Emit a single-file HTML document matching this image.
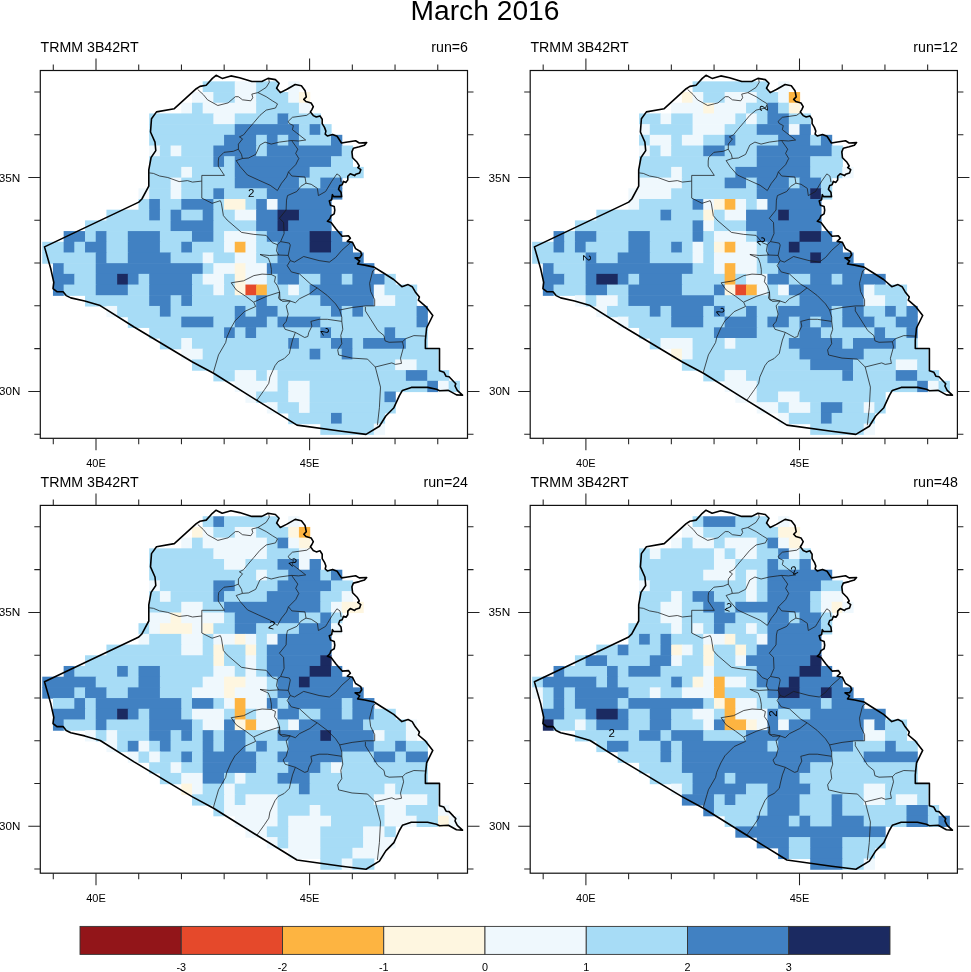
<!DOCTYPE html><html><head><meta charset="utf-8"><style>html,body{margin:0;padding:0;background:#fff;width:971px;height:972px;overflow:hidden}svg{display:block;will-change:transform}</style></head><body>
<svg width="971" height="972" viewBox="0 0 971 972">
<rect width="971" height="972" fill="#fff"/>
<text x="485" y="20.4" text-anchor="middle" font-size="28.2" font-family="Liberation Sans, sans-serif" fill="#000">March 2016</text>
<g transform="translate(0,0)">
<clipPath id="c0"><rect x="40.3" y="70.5" width="427.2" height="367.8"/></clipPath>
<g clip-path="url(#c0)" class="cl">
<rect x="202.68" y="81.35" width="32.69" height="11.29" fill="#A7DCF6"/>
<rect x="234.76" y="81.35" width="21.99" height="11.29" fill="#EFF8FD"/>
<rect x="256.15" y="81.35" width="21.99" height="11.29" fill="#A7DCF6"/>
<rect x="288.24" y="81.35" width="11.29" height="11.29" fill="#EFF8FD"/>
<rect x="191.98" y="92.04" width="21.99" height="11.29" fill="#EFF8FD"/>
<rect x="213.37" y="92.04" width="21.99" height="11.29" fill="#A7DCF6"/>
<rect x="234.76" y="92.04" width="21.99" height="11.29" fill="#EFF8FD"/>
<rect x="256.15" y="92.04" width="32.69" height="11.29" fill="#A7DCF6"/>
<rect x="288.24" y="92.04" width="11.29" height="11.29" fill="#EFF8FD"/>
<rect x="298.93" y="92.04" width="11.29" height="11.29" fill="#FEF6E0"/>
<rect x="181.28" y="102.73" width="11.29" height="11.29" fill="#EFF8FD"/>
<rect x="191.98" y="102.73" width="11.29" height="11.29" fill="#A7DCF6"/>
<rect x="202.68" y="102.73" width="54.08" height="11.29" fill="#EFF8FD"/>
<rect x="256.15" y="102.73" width="43.38" height="11.29" fill="#A7DCF6"/>
<rect x="298.93" y="102.73" width="11.29" height="11.29" fill="#EFF8FD"/>
<rect x="149.2" y="113.43" width="64.77" height="11.29" fill="#A7DCF6"/>
<rect x="213.37" y="113.43" width="21.99" height="11.29" fill="#EFF8FD"/>
<rect x="234.76" y="113.43" width="43.38" height="11.29" fill="#A7DCF6"/>
<rect x="277.54" y="113.43" width="11.29" height="11.29" fill="#4181C2"/>
<rect x="288.24" y="113.43" width="32.69" height="11.29" fill="#A7DCF6"/>
<rect x="149.2" y="124.13" width="86.16" height="11.29" fill="#A7DCF6"/>
<rect x="234.76" y="124.13" width="64.77" height="11.29" fill="#4181C2"/>
<rect x="298.93" y="124.13" width="11.29" height="11.29" fill="#A7DCF6"/>
<rect x="309.62" y="124.13" width="11.29" height="11.29" fill="#4181C2"/>
<rect x="320.32" y="124.13" width="11.29" height="11.29" fill="#A7DCF6"/>
<rect x="149.2" y="134.82" width="75.47" height="11.29" fill="#A7DCF6"/>
<rect x="224.06" y="134.82" width="32.69" height="11.29" fill="#4181C2"/>
<rect x="256.15" y="134.82" width="11.29" height="11.29" fill="#A7DCF6"/>
<rect x="266.84" y="134.82" width="11.29" height="11.29" fill="#4181C2"/>
<rect x="277.54" y="134.82" width="11.29" height="11.29" fill="#A7DCF6"/>
<rect x="288.24" y="134.82" width="11.29" height="11.29" fill="#4181C2"/>
<rect x="298.93" y="134.82" width="32.69" height="11.29" fill="#A7DCF6"/>
<rect x="331.01" y="134.82" width="11.29" height="11.29" fill="#4181C2"/>
<rect x="149.2" y="145.51" width="11.29" height="11.29" fill="#EFF8FD"/>
<rect x="159.89" y="145.51" width="11.29" height="11.29" fill="#A7DCF6"/>
<rect x="170.59" y="145.51" width="11.29" height="11.29" fill="#EFF8FD"/>
<rect x="181.28" y="145.51" width="32.69" height="11.29" fill="#A7DCF6"/>
<rect x="213.37" y="145.51" width="43.38" height="11.29" fill="#4181C2"/>
<rect x="256.15" y="145.51" width="11.29" height="11.29" fill="#A7DCF6"/>
<rect x="266.84" y="145.51" width="75.47" height="11.29" fill="#4181C2"/>
<rect x="341.71" y="145.51" width="11.29" height="11.29" fill="#A7DCF6"/>
<rect x="149.2" y="156.21" width="64.77" height="11.29" fill="#A7DCF6"/>
<rect x="213.37" y="156.21" width="11.29" height="11.29" fill="#4181C2"/>
<rect x="224.06" y="156.21" width="11.29" height="11.29" fill="#A7DCF6"/>
<rect x="234.76" y="156.21" width="96.85" height="11.29" fill="#4181C2"/>
<rect x="331.01" y="156.21" width="21.99" height="11.29" fill="#A7DCF6"/>
<rect x="149.2" y="166.9" width="32.69" height="11.29" fill="#A7DCF6"/>
<rect x="181.28" y="166.9" width="11.29" height="11.29" fill="#EFF8FD"/>
<rect x="191.98" y="166.9" width="43.38" height="11.29" fill="#A7DCF6"/>
<rect x="234.76" y="166.9" width="75.47" height="11.29" fill="#4181C2"/>
<rect x="309.62" y="166.9" width="54.08" height="11.29" fill="#A7DCF6"/>
<rect x="149.2" y="177.6" width="21.99" height="11.29" fill="#A7DCF6"/>
<rect x="170.59" y="177.6" width="11.29" height="11.29" fill="#EFF8FD"/>
<rect x="181.28" y="177.6" width="54.08" height="11.29" fill="#A7DCF6"/>
<rect x="234.76" y="177.6" width="64.77" height="11.29" fill="#4181C2"/>
<rect x="298.93" y="177.6" width="21.99" height="11.29" fill="#A7DCF6"/>
<rect x="320.32" y="177.6" width="21.99" height="11.29" fill="#4181C2"/>
<rect x="138.5" y="188.3" width="11.29" height="11.29" fill="#EFF8FD"/>
<rect x="149.2" y="188.3" width="21.99" height="11.29" fill="#A7DCF6"/>
<rect x="170.59" y="188.3" width="11.29" height="11.29" fill="#EFF8FD"/>
<rect x="181.28" y="188.3" width="32.69" height="11.29" fill="#A7DCF6"/>
<rect x="213.37" y="188.3" width="11.29" height="11.29" fill="#4181C2"/>
<rect x="224.06" y="188.3" width="43.38" height="11.29" fill="#A7DCF6"/>
<rect x="266.84" y="188.3" width="75.47" height="11.29" fill="#4181C2"/>
<rect x="138.5" y="198.99" width="11.29" height="11.29" fill="#A7DCF6"/>
<rect x="149.2" y="198.99" width="11.29" height="11.29" fill="#4181C2"/>
<rect x="159.89" y="198.99" width="21.99" height="11.29" fill="#A7DCF6"/>
<rect x="181.28" y="198.99" width="32.69" height="11.29" fill="#4181C2"/>
<rect x="213.37" y="198.99" width="11.29" height="11.29" fill="#A7DCF6"/>
<rect x="224.06" y="198.99" width="21.99" height="11.29" fill="#FEF6E0"/>
<rect x="245.45" y="198.99" width="11.29" height="11.29" fill="#A7DCF6"/>
<rect x="256.15" y="198.99" width="11.29" height="11.29" fill="#4181C2"/>
<rect x="266.84" y="198.99" width="11.29" height="11.29" fill="#EFF8FD"/>
<rect x="277.54" y="198.99" width="54.08" height="11.29" fill="#4181C2"/>
<rect x="106.42" y="209.69" width="43.38" height="11.29" fill="#A7DCF6"/>
<rect x="149.2" y="209.69" width="11.29" height="11.29" fill="#4181C2"/>
<rect x="159.89" y="209.69" width="11.29" height="11.29" fill="#A7DCF6"/>
<rect x="170.59" y="209.69" width="11.29" height="11.29" fill="#4181C2"/>
<rect x="181.28" y="209.69" width="21.99" height="11.29" fill="#A7DCF6"/>
<rect x="202.68" y="209.69" width="11.29" height="11.29" fill="#4181C2"/>
<rect x="213.37" y="209.69" width="21.99" height="11.29" fill="#A7DCF6"/>
<rect x="234.76" y="209.69" width="21.99" height="11.29" fill="#EFF8FD"/>
<rect x="256.15" y="209.69" width="21.99" height="11.29" fill="#4181C2"/>
<rect x="277.54" y="209.69" width="21.99" height="11.29" fill="#1B2A61"/>
<rect x="298.93" y="209.69" width="32.69" height="11.29" fill="#4181C2"/>
<rect x="85.03" y="220.38" width="86.16" height="11.29" fill="#A7DCF6"/>
<rect x="170.59" y="220.38" width="43.38" height="11.29" fill="#4181C2"/>
<rect x="213.37" y="220.38" width="43.38" height="11.29" fill="#A7DCF6"/>
<rect x="256.15" y="220.38" width="21.99" height="11.29" fill="#4181C2"/>
<rect x="277.54" y="220.38" width="11.29" height="11.29" fill="#1B2A61"/>
<rect x="288.24" y="220.38" width="43.38" height="11.29" fill="#4181C2"/>
<rect x="63.64" y="231.07" width="21.99" height="11.29" fill="#4181C2"/>
<rect x="85.03" y="231.07" width="11.29" height="11.29" fill="#A7DCF6"/>
<rect x="95.73" y="231.07" width="11.29" height="11.29" fill="#4181C2"/>
<rect x="106.42" y="231.07" width="21.99" height="11.29" fill="#A7DCF6"/>
<rect x="127.81" y="231.07" width="32.69" height="11.29" fill="#4181C2"/>
<rect x="159.89" y="231.07" width="32.69" height="11.29" fill="#A7DCF6"/>
<rect x="191.98" y="231.07" width="21.99" height="11.29" fill="#4181C2"/>
<rect x="213.37" y="231.07" width="11.29" height="11.29" fill="#A7DCF6"/>
<rect x="224.06" y="231.07" width="32.69" height="11.29" fill="#EFF8FD"/>
<rect x="256.15" y="231.07" width="11.29" height="11.29" fill="#A7DCF6"/>
<rect x="266.84" y="231.07" width="43.38" height="11.29" fill="#4181C2"/>
<rect x="309.62" y="231.07" width="21.99" height="11.29" fill="#1B2A61"/>
<rect x="331.01" y="231.07" width="11.29" height="11.29" fill="#4181C2"/>
<rect x="42.25" y="241.77" width="21.99" height="11.29" fill="#A7DCF6"/>
<rect x="63.64" y="241.77" width="11.29" height="11.29" fill="#4181C2"/>
<rect x="74.33" y="241.77" width="11.29" height="11.29" fill="#A7DCF6"/>
<rect x="85.03" y="241.77" width="21.99" height="11.29" fill="#4181C2"/>
<rect x="106.42" y="241.77" width="21.99" height="11.29" fill="#A7DCF6"/>
<rect x="127.81" y="241.77" width="32.69" height="11.29" fill="#4181C2"/>
<rect x="159.89" y="241.77" width="21.99" height="11.29" fill="#A7DCF6"/>
<rect x="181.28" y="241.77" width="11.29" height="11.29" fill="#4181C2"/>
<rect x="191.98" y="241.77" width="32.69" height="11.29" fill="#A7DCF6"/>
<rect x="224.06" y="241.77" width="11.29" height="11.29" fill="#EFF8FD"/>
<rect x="234.76" y="241.77" width="11.29" height="11.29" fill="#FDB441"/>
<rect x="245.45" y="241.77" width="11.29" height="11.29" fill="#EFF8FD"/>
<rect x="256.15" y="241.77" width="21.99" height="11.29" fill="#A7DCF6"/>
<rect x="277.54" y="241.77" width="32.69" height="11.29" fill="#4181C2"/>
<rect x="309.62" y="241.77" width="21.99" height="11.29" fill="#1B2A61"/>
<rect x="331.01" y="241.77" width="21.99" height="11.29" fill="#4181C2"/>
<rect x="42.25" y="252.46" width="54.08" height="11.29" fill="#A7DCF6"/>
<rect x="95.73" y="252.46" width="11.29" height="11.29" fill="#4181C2"/>
<rect x="106.42" y="252.46" width="21.99" height="11.29" fill="#A7DCF6"/>
<rect x="127.81" y="252.46" width="43.38" height="11.29" fill="#4181C2"/>
<rect x="170.59" y="252.46" width="32.69" height="11.29" fill="#A7DCF6"/>
<rect x="202.68" y="252.46" width="11.29" height="11.29" fill="#EFF8FD"/>
<rect x="213.37" y="252.46" width="21.99" height="11.29" fill="#A7DCF6"/>
<rect x="234.76" y="252.46" width="21.99" height="11.29" fill="#EFF8FD"/>
<rect x="256.15" y="252.46" width="21.99" height="11.29" fill="#A7DCF6"/>
<rect x="277.54" y="252.46" width="86.16" height="11.29" fill="#4181C2"/>
<rect x="52.95" y="263.16" width="11.29" height="11.29" fill="#4181C2"/>
<rect x="63.64" y="263.16" width="32.69" height="11.29" fill="#A7DCF6"/>
<rect x="95.73" y="263.16" width="107.55" height="11.29" fill="#4181C2"/>
<rect x="202.68" y="263.16" width="11.29" height="11.29" fill="#A7DCF6"/>
<rect x="213.37" y="263.16" width="21.99" height="11.29" fill="#EFF8FD"/>
<rect x="234.76" y="263.16" width="11.29" height="11.29" fill="#FEF6E0"/>
<rect x="245.45" y="263.16" width="21.99" height="11.29" fill="#EFF8FD"/>
<rect x="266.84" y="263.16" width="107.55" height="11.29" fill="#4181C2"/>
<rect x="52.95" y="273.86" width="21.99" height="11.29" fill="#4181C2"/>
<rect x="74.33" y="273.86" width="21.99" height="11.29" fill="#A7DCF6"/>
<rect x="95.73" y="273.86" width="21.99" height="11.29" fill="#4181C2"/>
<rect x="117.12" y="273.86" width="11.29" height="11.29" fill="#1B2A61"/>
<rect x="127.81" y="273.86" width="11.29" height="11.29" fill="#4181C2"/>
<rect x="138.5" y="273.86" width="11.29" height="11.29" fill="#A7DCF6"/>
<rect x="149.2" y="273.86" width="43.38" height="11.29" fill="#4181C2"/>
<rect x="191.98" y="273.86" width="11.29" height="11.29" fill="#A7DCF6"/>
<rect x="202.68" y="273.86" width="21.99" height="11.29" fill="#EFF8FD"/>
<rect x="224.06" y="273.86" width="11.29" height="11.29" fill="#A7DCF6"/>
<rect x="234.76" y="273.86" width="11.29" height="11.29" fill="#FEF6E0"/>
<rect x="245.45" y="273.86" width="21.99" height="11.29" fill="#EFF8FD"/>
<rect x="266.84" y="273.86" width="11.29" height="11.29" fill="#A7DCF6"/>
<rect x="277.54" y="273.86" width="21.99" height="11.29" fill="#4181C2"/>
<rect x="298.93" y="273.86" width="21.99" height="11.29" fill="#A7DCF6"/>
<rect x="320.32" y="273.86" width="21.99" height="11.29" fill="#4181C2"/>
<rect x="341.71" y="273.86" width="11.29" height="11.29" fill="#A7DCF6"/>
<rect x="352.41" y="273.86" width="32.69" height="11.29" fill="#4181C2"/>
<rect x="384.49" y="273.86" width="11.29" height="11.29" fill="#A7DCF6"/>
<rect x="52.95" y="284.55" width="11.29" height="11.29" fill="#4181C2"/>
<rect x="63.64" y="284.55" width="32.69" height="11.29" fill="#A7DCF6"/>
<rect x="95.73" y="284.55" width="32.69" height="11.29" fill="#4181C2"/>
<rect x="127.81" y="284.55" width="21.99" height="11.29" fill="#A7DCF6"/>
<rect x="149.2" y="284.55" width="43.38" height="11.29" fill="#4181C2"/>
<rect x="191.98" y="284.55" width="21.99" height="11.29" fill="#A7DCF6"/>
<rect x="213.37" y="284.55" width="11.29" height="11.29" fill="#EFF8FD"/>
<rect x="224.06" y="284.55" width="11.29" height="11.29" fill="#A7DCF6"/>
<rect x="234.76" y="284.55" width="11.29" height="11.29" fill="#FEF6E0"/>
<rect x="245.45" y="284.55" width="11.29" height="11.29" fill="#E5492B"/>
<rect x="256.15" y="284.55" width="11.29" height="11.29" fill="#FDB441"/>
<rect x="266.84" y="284.55" width="21.99" height="11.29" fill="#A7DCF6"/>
<rect x="288.24" y="284.55" width="11.29" height="11.29" fill="#EFF8FD"/>
<rect x="298.93" y="284.55" width="11.29" height="11.29" fill="#A7DCF6"/>
<rect x="309.62" y="284.55" width="64.77" height="11.29" fill="#4181C2"/>
<rect x="373.8" y="284.55" width="11.29" height="11.29" fill="#EFF8FD"/>
<rect x="384.49" y="284.55" width="32.69" height="11.29" fill="#A7DCF6"/>
<rect x="85.03" y="295.25" width="64.77" height="11.29" fill="#A7DCF6"/>
<rect x="149.2" y="295.25" width="21.99" height="11.29" fill="#4181C2"/>
<rect x="170.59" y="295.25" width="11.29" height="11.29" fill="#A7DCF6"/>
<rect x="181.28" y="295.25" width="11.29" height="11.29" fill="#4181C2"/>
<rect x="191.98" y="295.25" width="64.77" height="11.29" fill="#A7DCF6"/>
<rect x="256.15" y="295.25" width="11.29" height="11.29" fill="#4181C2"/>
<rect x="266.84" y="295.25" width="54.08" height="11.29" fill="#A7DCF6"/>
<rect x="320.32" y="295.25" width="54.08" height="11.29" fill="#4181C2"/>
<rect x="373.8" y="295.25" width="21.99" height="11.29" fill="#EFF8FD"/>
<rect x="395.19" y="295.25" width="21.99" height="11.29" fill="#A7DCF6"/>
<rect x="106.42" y="305.94" width="11.29" height="11.29" fill="#EFF8FD"/>
<rect x="117.12" y="305.94" width="43.38" height="11.29" fill="#A7DCF6"/>
<rect x="159.89" y="305.94" width="11.29" height="11.29" fill="#4181C2"/>
<rect x="170.59" y="305.94" width="64.77" height="11.29" fill="#A7DCF6"/>
<rect x="234.76" y="305.94" width="11.29" height="11.29" fill="#4181C2"/>
<rect x="245.45" y="305.94" width="11.29" height="11.29" fill="#A7DCF6"/>
<rect x="256.15" y="305.94" width="21.99" height="11.29" fill="#4181C2"/>
<rect x="277.54" y="305.94" width="54.08" height="11.29" fill="#A7DCF6"/>
<rect x="331.01" y="305.94" width="11.29" height="11.29" fill="#4181C2"/>
<rect x="341.71" y="305.94" width="11.29" height="11.29" fill="#A7DCF6"/>
<rect x="352.41" y="305.94" width="11.29" height="11.29" fill="#4181C2"/>
<rect x="363.1" y="305.94" width="54.08" height="11.29" fill="#A7DCF6"/>
<rect x="416.57" y="305.94" width="11.29" height="11.29" fill="#4181C2"/>
<rect x="127.81" y="316.63" width="54.08" height="11.29" fill="#A7DCF6"/>
<rect x="181.28" y="316.63" width="32.69" height="11.29" fill="#4181C2"/>
<rect x="213.37" y="316.63" width="21.99" height="11.29" fill="#A7DCF6"/>
<rect x="234.76" y="316.63" width="32.69" height="11.29" fill="#4181C2"/>
<rect x="266.84" y="316.63" width="11.29" height="11.29" fill="#A7DCF6"/>
<rect x="277.54" y="316.63" width="43.38" height="11.29" fill="#4181C2"/>
<rect x="320.32" y="316.63" width="96.85" height="11.29" fill="#A7DCF6"/>
<rect x="416.57" y="316.63" width="11.29" height="11.29" fill="#4181C2"/>
<rect x="149.2" y="327.33" width="75.47" height="11.29" fill="#A7DCF6"/>
<rect x="224.06" y="327.33" width="11.29" height="11.29" fill="#4181C2"/>
<rect x="234.76" y="327.33" width="11.29" height="11.29" fill="#A7DCF6"/>
<rect x="245.45" y="327.33" width="11.29" height="11.29" fill="#4181C2"/>
<rect x="256.15" y="327.33" width="64.77" height="11.29" fill="#A7DCF6"/>
<rect x="320.32" y="327.33" width="11.29" height="11.29" fill="#4181C2"/>
<rect x="331.01" y="327.33" width="54.08" height="11.29" fill="#A7DCF6"/>
<rect x="384.49" y="327.33" width="11.29" height="11.29" fill="#4181C2"/>
<rect x="395.19" y="327.33" width="32.69" height="11.29" fill="#A7DCF6"/>
<rect x="159.89" y="338.02" width="21.99" height="11.29" fill="#A7DCF6"/>
<rect x="181.28" y="338.02" width="11.29" height="11.29" fill="#EFF8FD"/>
<rect x="191.98" y="338.02" width="96.85" height="11.29" fill="#A7DCF6"/>
<rect x="288.24" y="338.02" width="11.29" height="11.29" fill="#4181C2"/>
<rect x="298.93" y="338.02" width="32.69" height="11.29" fill="#A7DCF6"/>
<rect x="331.01" y="338.02" width="21.99" height="11.29" fill="#4181C2"/>
<rect x="352.41" y="338.02" width="11.29" height="11.29" fill="#A7DCF6"/>
<rect x="363.1" y="338.02" width="43.38" height="11.29" fill="#4181C2"/>
<rect x="405.88" y="338.02" width="21.99" height="11.29" fill="#A7DCF6"/>
<rect x="181.28" y="348.72" width="21.99" height="11.29" fill="#EFF8FD"/>
<rect x="202.68" y="348.72" width="107.55" height="11.29" fill="#A7DCF6"/>
<rect x="309.62" y="348.72" width="11.29" height="11.29" fill="#4181C2"/>
<rect x="320.32" y="348.72" width="21.99" height="11.29" fill="#A7DCF6"/>
<rect x="341.71" y="348.72" width="11.29" height="11.29" fill="#4181C2"/>
<rect x="352.41" y="348.72" width="86.16" height="11.29" fill="#A7DCF6"/>
<rect x="191.98" y="359.41" width="203.81" height="11.29" fill="#A7DCF6"/>
<rect x="395.19" y="359.41" width="21.99" height="11.29" fill="#EFF8FD"/>
<rect x="416.57" y="359.41" width="21.99" height="11.29" fill="#A7DCF6"/>
<rect x="213.37" y="370.11" width="21.99" height="11.29" fill="#A7DCF6"/>
<rect x="234.76" y="370.11" width="21.99" height="11.29" fill="#EFF8FD"/>
<rect x="256.15" y="370.11" width="11.29" height="11.29" fill="#A7DCF6"/>
<rect x="266.84" y="370.11" width="11.29" height="11.29" fill="#EFF8FD"/>
<rect x="277.54" y="370.11" width="128.94" height="11.29" fill="#A7DCF6"/>
<rect x="405.88" y="370.11" width="21.99" height="11.29" fill="#4181C2"/>
<rect x="427.27" y="370.11" width="21.99" height="11.29" fill="#A7DCF6"/>
<rect x="234.76" y="380.81" width="43.38" height="11.29" fill="#EFF8FD"/>
<rect x="277.54" y="380.81" width="11.29" height="11.29" fill="#A7DCF6"/>
<rect x="288.24" y="380.81" width="21.99" height="11.29" fill="#EFF8FD"/>
<rect x="309.62" y="380.81" width="118.25" height="11.29" fill="#A7DCF6"/>
<rect x="427.27" y="380.81" width="11.29" height="11.29" fill="#4181C2"/>
<rect x="437.97" y="380.81" width="11.29" height="11.29" fill="#EFF8FD"/>
<rect x="448.66" y="380.81" width="11.29" height="11.29" fill="#A7DCF6"/>
<rect x="245.45" y="391.5" width="11.29" height="11.29" fill="#EFF8FD"/>
<rect x="256.15" y="391.5" width="32.69" height="11.29" fill="#A7DCF6"/>
<rect x="288.24" y="391.5" width="21.99" height="11.29" fill="#EFF8FD"/>
<rect x="309.62" y="391.5" width="75.47" height="11.29" fill="#A7DCF6"/>
<rect x="384.49" y="391.5" width="11.29" height="11.29" fill="#4181C2"/>
<rect x="266.84" y="402.19" width="11.29" height="11.29" fill="#EFF8FD"/>
<rect x="277.54" y="402.19" width="21.99" height="11.29" fill="#A7DCF6"/>
<rect x="298.93" y="402.19" width="11.29" height="11.29" fill="#EFF8FD"/>
<rect x="309.62" y="402.19" width="86.16" height="11.29" fill="#A7DCF6"/>
<rect x="288.24" y="412.89" width="43.38" height="11.29" fill="#A7DCF6"/>
<rect x="331.01" y="412.89" width="11.29" height="11.29" fill="#4181C2"/>
<rect x="341.71" y="412.89" width="43.38" height="11.29" fill="#A7DCF6"/>
<rect x="320.32" y="423.58" width="54.08" height="11.29" fill="#A7DCF6"/>
<rect x="373.8" y="423.58" width="11.29" height="11.29" fill="#EFF8FD"/>
<polyline fill="none" stroke="#1a1a1a" stroke-width="0.75" points="197.7,89.5 203.4,94.7 207.5,99.8 217.8,105.5 228.1,102.9 235.3,96.7 238.4,96.7 242.5,99.8 250.8,100.8 252.8,97.7 251.8,94.1 258,92.6 266.2,87.4 269.3,82.3 268.8,79.2"/>
<polyline fill="none" stroke="#1a1a1a" stroke-width="0.75" points="258,92.6 266.2,96.7 272.4,100.8 277.5,103.9 275.5,108 266.2,110.1 260,115.3 253.9,122.5 247.7,129.7 243.6,134.8 239.4,136.9 242.5,138.9 238.4,144.1 238.4,149.2 241.5,154.4 242.4,158.5"/>
<polyline fill="none" stroke="#1a1a1a" stroke-width="0.75" points="238.4,149.2 233.3,151.3 224,152.3 218.8,157.5 218.3,161 218.3,166.2 224.4,175.4 201.8,175.4 201.8,181.1"/>
<polyline fill="none" stroke="#1a1a1a" stroke-width="0.75" points="149.3,172.9 153.4,173.4 159.6,176 167.8,177.5 179.1,181.6 187.4,180.6 192.5,182.1 201.8,181.1"/>
<polyline fill="none" stroke="#1a1a1a" stroke-width="0.75" points="201.8,181.1 201.8,198.1 212.1,203.3 220.3,200.7 221.4,203.3 223.4,215.6 227.1,220 241.5,232.4 253.9,234.4 266.2,235.4 272.4,242.7 277.5,244.7"/>
<polyline fill="none" stroke="#1a1a1a" stroke-width="0.75" points="242.4,158.5 248.5,158 255.7,154.4 259.9,145.1 265,142.1 271.2,144.1 279.4,142.1 287.7,141 291.6,140.5 297.8,149.2 295.7,153.4 298.8,158.5 295.7,164.7 288.5,171.9 286.5,177 281.5,183.3 277.4,190.5 270.2,185.3 258.8,180.2 247.5,175 240.3,166.8 236.2,160.6 242.4,158.5"/>
<polyline fill="none" stroke="#1a1a1a" stroke-width="0.75" points="288.5,171.9 291.8,176 305,177 306,183.2 300.9,186.3 296.8,191.5 287.5,195.6 286.5,200.1 286.1,210 279.4,218.3 283.6,222.4 284.1,233.6 280.6,241.6 277.5,244.7"/>
<polyline fill="none" stroke="#1a1a1a" stroke-width="0.75" points="306,183.2 311.2,184.3 317.4,188.4 318.4,195.6 325.6,191.5 331.8,181.2 336.9,173.9 340,176 341.1,182.2"/>
<polyline fill="none" stroke="#1a1a1a" stroke-width="0.75" points="291.6,140.5 298.5,141 305.7,140 296.5,132.8 292.4,129.7 293.4,125.6 289.3,123.5 288.2,121.4 292.4,117.3 306.8,115.3 310.9,112.2"/>
<polyline fill="none" stroke="#1a1a1a" stroke-width="0.75" points="350,243.1 341.8,250.3 335.6,257.5 329.4,262.1 319.1,260.6 303.7,256.5 294.4,262.1 290.3,260.6 288.2,255.4 290.3,245.1 289.3,243.1 280.6,241.6"/>
<polyline fill="none" stroke="#1a1a1a" stroke-width="0.75" points="277.5,244.7 276.5,250.9 278.6,255 269.3,255.5 260,254.5 268.3,258.1 270.3,263.3 271.4,269.4 271.4,274.6 275.5,276.6 274.5,281.8 277.5,285.9 279.6,292.1 278.6,298.3 282.7,301.4 290.3,301"/>
<polyline fill="none" stroke="#1a1a1a" stroke-width="0.75" points="278.6,255 288.2,255.4"/>
<polyline fill="none" stroke="#1a1a1a" stroke-width="0.75" points="231.2,282.8 243.6,280.8 253.9,275.6 262.1,274.1 271.4,274.6"/>
<polyline fill="none" stroke="#1a1a1a" stroke-width="0.75" points="231.2,282.8 236.3,290 245.6,296.2 253.9,302.4 255.6,306.5"/>
<polyline fill="none" stroke="#1a1a1a" stroke-width="0.75" points="253.9,302 266.9,296.2 279.6,292.1"/>
<polyline fill="none" stroke="#1a1a1a" stroke-width="0.75" points="255.6,306.5 244.3,311.6 235,320.9 230.9,328.1 226.8,337.4 225.7,342.5 218.5,354.9 213.4,372.4"/>
<polyline fill="none" stroke="#1a1a1a" stroke-width="0.75" points="290.3,260.6 287.2,265.7 291.3,271.9 299.6,274 310.9,284.3 317.1,287.9 327.4,295.6 335.6,303.9 339.7,310 341.8,317.2 341.8,321.4"/>
<polyline fill="none" stroke="#1a1a1a" stroke-width="0.75" points="317.1,287.9 309.9,293.6 299.6,298.7 295.4,302.8 290.3,301 284.1,299.7 280,300 279.6,292.1"/>
<polyline fill="none" stroke="#1a1a1a" stroke-width="0.75" points="290.3,301 286.2,305.9 288.2,314.1 286.2,321.4 283.1,325.1 285.1,329.3 295.4,332.4 304.7,337.5 307.8,336.5 308.8,332.4 311.9,326.2 310.9,321.4"/>
<polyline fill="none" stroke="#1a1a1a" stroke-width="0.75" points="310.9,321.4 319.1,319.3 327.4,319.3 341.8,321.4 342.8,329.3 340.8,335.4 341.8,343.7 337.7,349.9 338.7,355 352.1,358.1 367.5,359.1 375.3,367 380.5,387.1 379.4,407.7 377.4,425.2"/>
<polyline fill="none" stroke="#1a1a1a" stroke-width="0.75" points="295.4,332.4 292.5,340 290.5,348.2 289.4,353.4 284.3,358.5 278.1,361.6 275,365.7 269.9,377.1 268.8,383.3 264.7,389.4 257,400.2"/>
<polyline fill="none" stroke="#1a1a1a" stroke-width="0.75" points="375.8,268.8 372.7,270.9 369.6,283.3 370.6,291.5 374.7,299.7 374.7,305.9 365.5,305.9 352.1,307.5 339.7,310"/>
<polyline fill="none" stroke="#1a1a1a" stroke-width="0.75" points="365.4,306.8 365.4,310.9 370.6,319.1 377.8,330.5 384,335.6 385,340.8 389.1,342.3 402.5,341.8 405.6,338.7 413.9,335.6 425.2,336.1"/>
<polyline fill="none" stroke="#1a1a1a" stroke-width="0.75" points="402.5,341.8 403.6,346.9 400.5,358.3 401.5,363.4 395.3,364.4 391.8,362.9 375.3,367"/>
<polygon fill="none" stroke="#000" stroke-width="1.6" stroke-linejoin="round" points="44.5,246.9 135.7,203.6 138.8,202.1 141.9,199 148.8,186.1 148.8,169.9 151.1,157.5 155.8,150.6 155,142.1 150.5,132 151.5,118.7 156.5,111.9 174.3,108.7 196.3,88.7 200,86.4 206.2,85.2 212.4,78.4 216.1,75.3 222.2,78.4 230.9,75.9 239.6,77.7 251.9,81.5 261.8,81.5 268,78.4 275.4,79.6 279.1,83.3 276.6,88.2 280.3,92.6 286.5,89.5 295.2,84.5 301.4,85.8 305.1,90.7 306.3,96.9 303.8,99.4 305.9,101.5 311.1,103 313.3,106.7 311.9,109.6 310.4,111.9 313.3,115.6 316.3,117 320,115.9 322.2,119.3 322.2,123.7 324.5,127.4 325.9,131.1 325.2,134.1 327.4,136 332.6,134.5 337.1,136.3 341.5,143 346,142.3 355.6,140.8 359.3,143 366.7,142.6 364.5,145.2 359.3,146.7 353.4,148.2 351.9,151.9 352.6,157.8 357.1,162.3 359.3,166 357.8,167.5 360.8,169.7 359.6,173.1 355.8,174.3 354.6,175.6 350.3,173.7 347.8,176.2 347.8,179.9 346,182.4 343.5,181.4 342.2,184.8 339.8,185.5 338.5,189.2 341,192.2 341.6,196.6 333.6,196.6 332.4,194.7 331.7,199.7 329.3,200.9 330.5,205.2 334.2,206.5 334.8,210.2 334.2,213.9 331.1,215.7 329.9,218.8 327.4,221.3 331.1,222.5 336,229 342.2,236.2 348.4,235.7 350.4,238.3 347.3,241.4 352.5,242.4 355.6,248.6 360.7,251.7 361.7,254.8 359.7,257.9 355.1,257.9 359.7,261 357.6,264 364.8,265.1 374.1,267.1 382.3,272.3 393.7,279.5 401.9,286.7 408.1,284.6 412.2,286.7 415.3,291.9 419.4,297 418.4,300.1 425.6,306.3 432.8,315.5 426.6,328 425.4,340 425.4,348.5 439.5,348.5 439.5,370.8 443.9,372.2 446.1,376.3 449.1,376.7 453.6,381.5 455.8,383.7 455,386 457.3,390.4 462.5,395.2 456.5,394.9 448.4,390.4 439.5,390.8 436.5,389.3 427.6,387.4 411.3,387.4 402.4,390.4 399.4,395.6 393.9,407.7 385.8,416 379.4,426.2 366,434.4 341.7,431.3 297,425.1 256.9,400.4 213.6,373.3 192.5,362 134.1,327 100.2,305.6 84.7,301 70.8,297.9 66.2,295.6 63.1,291.7 56.9,291.7 53,288.6 53.8,282.4 50.7,268.5"/>
</g>
<rect x="40.3" y="70.5" width="427.2" height="367.8" fill="none" stroke="#111" stroke-width="1.2"/>
<path stroke="#222" stroke-width="1.05" d="M53.28 438.3L53.28 444.3M53.28 70.5L53.28 64.5M96 438.3L96 450.3M96 70.5L96 58.5M138.72 438.3L138.72 444.3M138.72 70.5L138.72 64.5M181.44 438.3L181.44 444.3M181.44 70.5L181.44 64.5M224.16 438.3L224.16 444.3M224.16 70.5L224.16 64.5M266.88 438.3L266.88 444.3M266.88 70.5L266.88 64.5M309.6 438.3L309.6 450.3M309.6 70.5L309.6 58.5M352.32 438.3L352.32 444.3M352.32 70.5L352.32 64.5M395.04 438.3L395.04 444.3M395.04 70.5L395.04 64.5M437.76 438.3L437.76 444.3M437.76 70.5L437.76 64.5M40.3 434.18L34.3 434.18M467.5 434.18L473.5 434.18M40.3 391.4L28.3 391.4M467.5 391.4L479.5 391.4M40.3 348.62L34.3 348.62M467.5 348.62L473.5 348.62M40.3 305.84L34.3 305.84M467.5 305.84L473.5 305.84M40.3 263.06L34.3 263.06M467.5 263.06L473.5 263.06M40.3 220.28L34.3 220.28M467.5 220.28L473.5 220.28M40.3 177.5L28.3 177.5M467.5 177.5L479.5 177.5M40.3 134.72L34.3 134.72M467.5 134.72L473.5 134.72M40.3 91.94L34.3 91.94M467.5 91.94L473.5 91.94"/>
<text x="20.3" y="181.6" text-anchor="end" font-size="11.8" font-family="Liberation Sans, sans-serif">35N</text>
<text x="20.3" y="395.2" text-anchor="end" font-size="11.6" font-family="Liberation Sans, sans-serif">30N</text>
<text x="96.0" y="467.3" text-anchor="middle" font-size="11" font-family="Liberation Sans, sans-serif">40E</text>
<text x="309.6" y="467.3" text-anchor="middle" font-size="11" font-family="Liberation Sans, sans-serif">45E</text>
<text x="40.5" y="51.7" font-size="14.2" font-family="Liberation Sans, sans-serif">TRMM 3B42RT</text>
<text x="468" y="51.7" text-anchor="end" font-size="14.2" font-family="Liberation Sans, sans-serif">run=6</text>
</g>
<g transform="translate(489.9,0)">
<clipPath id="c1"><rect x="40.3" y="70.5" width="427.2" height="367.8"/></clipPath>
<g clip-path="url(#c1)" class="cl">
<rect x="202.68" y="81.35" width="75.47" height="11.29" fill="#A7DCF6"/>
<rect x="288.24" y="81.35" width="11.29" height="11.29" fill="#EFF8FD"/>
<rect x="191.98" y="92.04" width="11.29" height="11.29" fill="#FEF6E0"/>
<rect x="202.68" y="92.04" width="11.29" height="11.29" fill="#EFF8FD"/>
<rect x="213.37" y="92.04" width="21.99" height="11.29" fill="#A7DCF6"/>
<rect x="234.76" y="92.04" width="32.69" height="11.29" fill="#EFF8FD"/>
<rect x="266.84" y="92.04" width="21.99" height="11.29" fill="#A7DCF6"/>
<rect x="288.24" y="92.04" width="11.29" height="11.29" fill="#EFF8FD"/>
<rect x="298.93" y="92.04" width="11.29" height="11.29" fill="#FDB441"/>
<rect x="181.28" y="102.73" width="32.69" height="11.29" fill="#EFF8FD"/>
<rect x="213.37" y="102.73" width="11.29" height="11.29" fill="#FEF6E0"/>
<rect x="224.06" y="102.73" width="32.69" height="11.29" fill="#EFF8FD"/>
<rect x="256.15" y="102.73" width="21.99" height="11.29" fill="#A7DCF6"/>
<rect x="277.54" y="102.73" width="11.29" height="11.29" fill="#4181C2"/>
<rect x="288.24" y="102.73" width="11.29" height="11.29" fill="#A7DCF6"/>
<rect x="298.93" y="102.73" width="11.29" height="11.29" fill="#FEF6E0"/>
<rect x="149.2" y="113.43" width="21.99" height="11.29" fill="#A7DCF6"/>
<rect x="170.59" y="113.43" width="11.29" height="11.29" fill="#EFF8FD"/>
<rect x="181.28" y="113.43" width="21.99" height="11.29" fill="#A7DCF6"/>
<rect x="202.68" y="113.43" width="43.38" height="11.29" fill="#EFF8FD"/>
<rect x="245.45" y="113.43" width="11.29" height="11.29" fill="#A7DCF6"/>
<rect x="256.15" y="113.43" width="11.29" height="11.29" fill="#EFF8FD"/>
<rect x="266.84" y="113.43" width="11.29" height="11.29" fill="#A7DCF6"/>
<rect x="277.54" y="113.43" width="21.99" height="11.29" fill="#4181C2"/>
<rect x="298.93" y="113.43" width="21.99" height="11.29" fill="#A7DCF6"/>
<rect x="149.2" y="124.13" width="11.29" height="11.29" fill="#EFF8FD"/>
<rect x="159.89" y="124.13" width="43.38" height="11.29" fill="#A7DCF6"/>
<rect x="202.68" y="124.13" width="32.69" height="11.29" fill="#EFF8FD"/>
<rect x="234.76" y="124.13" width="32.69" height="11.29" fill="#A7DCF6"/>
<rect x="266.84" y="124.13" width="32.69" height="11.29" fill="#4181C2"/>
<rect x="298.93" y="124.13" width="11.29" height="11.29" fill="#EFF8FD"/>
<rect x="309.62" y="124.13" width="11.29" height="11.29" fill="#4181C2"/>
<rect x="149.2" y="134.82" width="11.29" height="11.29" fill="#A7DCF6"/>
<rect x="159.89" y="134.82" width="21.99" height="11.29" fill="#EFF8FD"/>
<rect x="181.28" y="134.82" width="11.29" height="11.29" fill="#A7DCF6"/>
<rect x="191.98" y="134.82" width="21.99" height="11.29" fill="#EFF8FD"/>
<rect x="213.37" y="134.82" width="21.99" height="11.29" fill="#A7DCF6"/>
<rect x="234.76" y="134.82" width="11.29" height="11.29" fill="#4181C2"/>
<rect x="245.45" y="134.82" width="43.38" height="11.29" fill="#A7DCF6"/>
<rect x="288.24" y="134.82" width="32.69" height="11.29" fill="#4181C2"/>
<rect x="320.32" y="134.82" width="11.29" height="11.29" fill="#A7DCF6"/>
<rect x="331.01" y="134.82" width="11.29" height="11.29" fill="#4181C2"/>
<rect x="149.2" y="145.51" width="11.29" height="11.29" fill="#EFF8FD"/>
<rect x="159.89" y="145.51" width="11.29" height="11.29" fill="#A7DCF6"/>
<rect x="170.59" y="145.51" width="11.29" height="11.29" fill="#EFF8FD"/>
<rect x="181.28" y="145.51" width="32.69" height="11.29" fill="#A7DCF6"/>
<rect x="213.37" y="145.51" width="21.99" height="11.29" fill="#4181C2"/>
<rect x="234.76" y="145.51" width="32.69" height="11.29" fill="#A7DCF6"/>
<rect x="266.84" y="145.51" width="75.47" height="11.29" fill="#4181C2"/>
<rect x="341.71" y="145.51" width="11.29" height="11.29" fill="#A7DCF6"/>
<rect x="149.2" y="156.21" width="118.25" height="11.29" fill="#A7DCF6"/>
<rect x="266.84" y="156.21" width="54.08" height="11.29" fill="#4181C2"/>
<rect x="320.32" y="156.21" width="32.69" height="11.29" fill="#A7DCF6"/>
<rect x="149.2" y="166.9" width="32.69" height="11.29" fill="#A7DCF6"/>
<rect x="181.28" y="166.9" width="11.29" height="11.29" fill="#EFF8FD"/>
<rect x="191.98" y="166.9" width="54.08" height="11.29" fill="#A7DCF6"/>
<rect x="245.45" y="166.9" width="75.47" height="11.29" fill="#4181C2"/>
<rect x="320.32" y="166.9" width="32.69" height="11.29" fill="#A7DCF6"/>
<rect x="352.41" y="166.9" width="11.29" height="11.29" fill="#EFF8FD"/>
<rect x="149.2" y="177.6" width="43.38" height="11.29" fill="#EFF8FD"/>
<rect x="191.98" y="177.6" width="43.38" height="11.29" fill="#A7DCF6"/>
<rect x="234.76" y="177.6" width="21.99" height="11.29" fill="#4181C2"/>
<rect x="256.15" y="177.6" width="11.29" height="11.29" fill="#A7DCF6"/>
<rect x="266.84" y="177.6" width="32.69" height="11.29" fill="#4181C2"/>
<rect x="298.93" y="177.6" width="11.29" height="11.29" fill="#A7DCF6"/>
<rect x="309.62" y="177.6" width="21.99" height="11.29" fill="#4181C2"/>
<rect x="331.01" y="177.6" width="11.29" height="11.29" fill="#A7DCF6"/>
<rect x="138.5" y="188.3" width="43.38" height="11.29" fill="#EFF8FD"/>
<rect x="181.28" y="188.3" width="86.16" height="11.29" fill="#A7DCF6"/>
<rect x="266.84" y="188.3" width="54.08" height="11.29" fill="#4181C2"/>
<rect x="320.32" y="188.3" width="11.29" height="11.29" fill="#1B2A61"/>
<rect x="331.01" y="188.3" width="11.29" height="11.29" fill="#A7DCF6"/>
<rect x="138.5" y="198.99" width="11.29" height="11.29" fill="#EFF8FD"/>
<rect x="149.2" y="198.99" width="54.08" height="11.29" fill="#A7DCF6"/>
<rect x="202.68" y="198.99" width="11.29" height="11.29" fill="#4181C2"/>
<rect x="213.37" y="198.99" width="11.29" height="11.29" fill="#EFF8FD"/>
<rect x="224.06" y="198.99" width="11.29" height="11.29" fill="#FEF6E0"/>
<rect x="234.76" y="198.99" width="11.29" height="11.29" fill="#FDB441"/>
<rect x="245.45" y="198.99" width="11.29" height="11.29" fill="#EFF8FD"/>
<rect x="256.15" y="198.99" width="11.29" height="11.29" fill="#A7DCF6"/>
<rect x="266.84" y="198.99" width="11.29" height="11.29" fill="#EFF8FD"/>
<rect x="277.54" y="198.99" width="54.08" height="11.29" fill="#4181C2"/>
<rect x="106.42" y="209.69" width="64.77" height="11.29" fill="#A7DCF6"/>
<rect x="170.59" y="209.69" width="11.29" height="11.29" fill="#4181C2"/>
<rect x="181.28" y="209.69" width="32.69" height="11.29" fill="#A7DCF6"/>
<rect x="213.37" y="209.69" width="11.29" height="11.29" fill="#FEF6E0"/>
<rect x="224.06" y="209.69" width="11.29" height="11.29" fill="#A7DCF6"/>
<rect x="234.76" y="209.69" width="21.99" height="11.29" fill="#EFF8FD"/>
<rect x="256.15" y="209.69" width="32.69" height="11.29" fill="#4181C2"/>
<rect x="288.24" y="209.69" width="11.29" height="11.29" fill="#1B2A61"/>
<rect x="298.93" y="209.69" width="32.69" height="11.29" fill="#4181C2"/>
<rect x="85.03" y="220.38" width="118.25" height="11.29" fill="#A7DCF6"/>
<rect x="202.68" y="220.38" width="11.29" height="11.29" fill="#4181C2"/>
<rect x="213.37" y="220.38" width="11.29" height="11.29" fill="#EFF8FD"/>
<rect x="224.06" y="220.38" width="32.69" height="11.29" fill="#A7DCF6"/>
<rect x="256.15" y="220.38" width="75.47" height="11.29" fill="#4181C2"/>
<rect x="63.64" y="231.07" width="11.29" height="11.29" fill="#4181C2"/>
<rect x="74.33" y="231.07" width="11.29" height="11.29" fill="#A7DCF6"/>
<rect x="85.03" y="231.07" width="21.99" height="11.29" fill="#4181C2"/>
<rect x="106.42" y="231.07" width="32.69" height="11.29" fill="#A7DCF6"/>
<rect x="138.5" y="231.07" width="21.99" height="11.29" fill="#4181C2"/>
<rect x="159.89" y="231.07" width="43.38" height="11.29" fill="#A7DCF6"/>
<rect x="202.68" y="231.07" width="11.29" height="11.29" fill="#4181C2"/>
<rect x="213.37" y="231.07" width="11.29" height="11.29" fill="#A7DCF6"/>
<rect x="224.06" y="231.07" width="32.69" height="11.29" fill="#EFF8FD"/>
<rect x="256.15" y="231.07" width="11.29" height="11.29" fill="#A7DCF6"/>
<rect x="266.84" y="231.07" width="43.38" height="11.29" fill="#4181C2"/>
<rect x="309.62" y="231.07" width="21.99" height="11.29" fill="#1B2A61"/>
<rect x="331.01" y="231.07" width="11.29" height="11.29" fill="#4181C2"/>
<rect x="42.25" y="241.77" width="21.99" height="11.29" fill="#A7DCF6"/>
<rect x="63.64" y="241.77" width="11.29" height="11.29" fill="#4181C2"/>
<rect x="74.33" y="241.77" width="11.29" height="11.29" fill="#A7DCF6"/>
<rect x="85.03" y="241.77" width="11.29" height="11.29" fill="#4181C2"/>
<rect x="95.73" y="241.77" width="43.38" height="11.29" fill="#A7DCF6"/>
<rect x="138.5" y="241.77" width="21.99" height="11.29" fill="#4181C2"/>
<rect x="159.89" y="241.77" width="21.99" height="11.29" fill="#A7DCF6"/>
<rect x="181.28" y="241.77" width="11.29" height="11.29" fill="#4181C2"/>
<rect x="191.98" y="241.77" width="11.29" height="11.29" fill="#A7DCF6"/>
<rect x="202.68" y="241.77" width="11.29" height="11.29" fill="#EFF8FD"/>
<rect x="213.37" y="241.77" width="11.29" height="11.29" fill="#A7DCF6"/>
<rect x="224.06" y="241.77" width="11.29" height="11.29" fill="#FEF6E0"/>
<rect x="234.76" y="241.77" width="11.29" height="11.29" fill="#FDB441"/>
<rect x="245.45" y="241.77" width="21.99" height="11.29" fill="#EFF8FD"/>
<rect x="266.84" y="241.77" width="11.29" height="11.29" fill="#A7DCF6"/>
<rect x="277.54" y="241.77" width="21.99" height="11.29" fill="#4181C2"/>
<rect x="298.93" y="241.77" width="11.29" height="11.29" fill="#1B2A61"/>
<rect x="309.62" y="241.77" width="43.38" height="11.29" fill="#4181C2"/>
<rect x="42.25" y="252.46" width="54.08" height="11.29" fill="#A7DCF6"/>
<rect x="95.73" y="252.46" width="11.29" height="11.29" fill="#4181C2"/>
<rect x="106.42" y="252.46" width="21.99" height="11.29" fill="#A7DCF6"/>
<rect x="127.81" y="252.46" width="32.69" height="11.29" fill="#4181C2"/>
<rect x="159.89" y="252.46" width="43.38" height="11.29" fill="#A7DCF6"/>
<rect x="202.68" y="252.46" width="11.29" height="11.29" fill="#EFF8FD"/>
<rect x="213.37" y="252.46" width="11.29" height="11.29" fill="#A7DCF6"/>
<rect x="224.06" y="252.46" width="43.38" height="11.29" fill="#EFF8FD"/>
<rect x="266.84" y="252.46" width="11.29" height="11.29" fill="#A7DCF6"/>
<rect x="277.54" y="252.46" width="43.38" height="11.29" fill="#4181C2"/>
<rect x="320.32" y="252.46" width="11.29" height="11.29" fill="#1B2A61"/>
<rect x="331.01" y="252.46" width="32.69" height="11.29" fill="#4181C2"/>
<rect x="52.95" y="263.16" width="11.29" height="11.29" fill="#4181C2"/>
<rect x="63.64" y="263.16" width="32.69" height="11.29" fill="#A7DCF6"/>
<rect x="95.73" y="263.16" width="107.55" height="11.29" fill="#4181C2"/>
<rect x="202.68" y="263.16" width="21.99" height="11.29" fill="#A7DCF6"/>
<rect x="224.06" y="263.16" width="11.29" height="11.29" fill="#EFF8FD"/>
<rect x="234.76" y="263.16" width="11.29" height="11.29" fill="#FDB441"/>
<rect x="245.45" y="263.16" width="21.99" height="11.29" fill="#EFF8FD"/>
<rect x="266.84" y="263.16" width="21.99" height="11.29" fill="#A7DCF6"/>
<rect x="288.24" y="263.16" width="86.16" height="11.29" fill="#4181C2"/>
<rect x="52.95" y="273.86" width="21.99" height="11.29" fill="#4181C2"/>
<rect x="74.33" y="273.86" width="21.99" height="11.29" fill="#A7DCF6"/>
<rect x="95.73" y="273.86" width="11.29" height="11.29" fill="#4181C2"/>
<rect x="106.42" y="273.86" width="21.99" height="11.29" fill="#1B2A61"/>
<rect x="127.81" y="273.86" width="11.29" height="11.29" fill="#4181C2"/>
<rect x="138.5" y="273.86" width="11.29" height="11.29" fill="#A7DCF6"/>
<rect x="149.2" y="273.86" width="43.38" height="11.29" fill="#4181C2"/>
<rect x="191.98" y="273.86" width="43.38" height="11.29" fill="#A7DCF6"/>
<rect x="234.76" y="273.86" width="11.29" height="11.29" fill="#FDB441"/>
<rect x="245.45" y="273.86" width="11.29" height="11.29" fill="#A7DCF6"/>
<rect x="256.15" y="273.86" width="21.99" height="11.29" fill="#EFF8FD"/>
<rect x="277.54" y="273.86" width="21.99" height="11.29" fill="#4181C2"/>
<rect x="298.93" y="273.86" width="21.99" height="11.29" fill="#A7DCF6"/>
<rect x="320.32" y="273.86" width="21.99" height="11.29" fill="#4181C2"/>
<rect x="341.71" y="273.86" width="11.29" height="11.29" fill="#A7DCF6"/>
<rect x="352.41" y="273.86" width="43.38" height="11.29" fill="#4181C2"/>
<rect x="52.95" y="284.55" width="11.29" height="11.29" fill="#4181C2"/>
<rect x="63.64" y="284.55" width="32.69" height="11.29" fill="#A7DCF6"/>
<rect x="95.73" y="284.55" width="21.99" height="11.29" fill="#4181C2"/>
<rect x="117.12" y="284.55" width="21.99" height="11.29" fill="#A7DCF6"/>
<rect x="138.5" y="284.55" width="54.08" height="11.29" fill="#4181C2"/>
<rect x="191.98" y="284.55" width="32.69" height="11.29" fill="#A7DCF6"/>
<rect x="224.06" y="284.55" width="11.29" height="11.29" fill="#4181C2"/>
<rect x="234.76" y="284.55" width="11.29" height="11.29" fill="#FEF6E0"/>
<rect x="245.45" y="284.55" width="11.29" height="11.29" fill="#E5492B"/>
<rect x="256.15" y="284.55" width="11.29" height="11.29" fill="#FDB441"/>
<rect x="266.84" y="284.55" width="11.29" height="11.29" fill="#EFF8FD"/>
<rect x="277.54" y="284.55" width="11.29" height="11.29" fill="#A7DCF6"/>
<rect x="288.24" y="284.55" width="11.29" height="11.29" fill="#EFF8FD"/>
<rect x="298.93" y="284.55" width="75.47" height="11.29" fill="#4181C2"/>
<rect x="373.8" y="284.55" width="11.29" height="11.29" fill="#EFF8FD"/>
<rect x="384.49" y="284.55" width="32.69" height="11.29" fill="#A7DCF6"/>
<rect x="85.03" y="295.25" width="11.29" height="11.29" fill="#EFF8FD"/>
<rect x="95.73" y="295.25" width="11.29" height="11.29" fill="#A7DCF6"/>
<rect x="106.42" y="295.25" width="21.99" height="11.29" fill="#EFF8FD"/>
<rect x="127.81" y="295.25" width="11.29" height="11.29" fill="#A7DCF6"/>
<rect x="138.5" y="295.25" width="86.16" height="11.29" fill="#4181C2"/>
<rect x="224.06" y="295.25" width="86.16" height="11.29" fill="#A7DCF6"/>
<rect x="309.62" y="295.25" width="64.77" height="11.29" fill="#4181C2"/>
<rect x="373.8" y="295.25" width="21.99" height="11.29" fill="#EFF8FD"/>
<rect x="395.19" y="295.25" width="21.99" height="11.29" fill="#A7DCF6"/>
<rect x="106.42" y="305.94" width="11.29" height="11.29" fill="#EFF8FD"/>
<rect x="117.12" y="305.94" width="43.38" height="11.29" fill="#A7DCF6"/>
<rect x="159.89" y="305.94" width="11.29" height="11.29" fill="#4181C2"/>
<rect x="170.59" y="305.94" width="11.29" height="11.29" fill="#A7DCF6"/>
<rect x="181.28" y="305.94" width="32.69" height="11.29" fill="#4181C2"/>
<rect x="213.37" y="305.94" width="11.29" height="11.29" fill="#A7DCF6"/>
<rect x="224.06" y="305.94" width="11.29" height="11.29" fill="#4181C2"/>
<rect x="234.76" y="305.94" width="21.99" height="11.29" fill="#A7DCF6"/>
<rect x="256.15" y="305.94" width="11.29" height="11.29" fill="#4181C2"/>
<rect x="266.84" y="305.94" width="21.99" height="11.29" fill="#A7DCF6"/>
<rect x="288.24" y="305.94" width="54.08" height="11.29" fill="#4181C2"/>
<rect x="341.71" y="305.94" width="11.29" height="11.29" fill="#A7DCF6"/>
<rect x="352.41" y="305.94" width="21.99" height="11.29" fill="#4181C2"/>
<rect x="373.8" y="305.94" width="21.99" height="11.29" fill="#A7DCF6"/>
<rect x="395.19" y="305.94" width="11.29" height="11.29" fill="#4181C2"/>
<rect x="405.88" y="305.94" width="11.29" height="11.29" fill="#A7DCF6"/>
<rect x="416.57" y="305.94" width="11.29" height="11.29" fill="#4181C2"/>
<rect x="127.81" y="316.63" width="11.29" height="11.29" fill="#EFF8FD"/>
<rect x="138.5" y="316.63" width="43.38" height="11.29" fill="#A7DCF6"/>
<rect x="181.28" y="316.63" width="32.69" height="11.29" fill="#4181C2"/>
<rect x="213.37" y="316.63" width="21.99" height="11.29" fill="#A7DCF6"/>
<rect x="234.76" y="316.63" width="32.69" height="11.29" fill="#4181C2"/>
<rect x="266.84" y="316.63" width="11.29" height="11.29" fill="#A7DCF6"/>
<rect x="277.54" y="316.63" width="21.99" height="11.29" fill="#4181C2"/>
<rect x="298.93" y="316.63" width="11.29" height="11.29" fill="#A7DCF6"/>
<rect x="309.62" y="316.63" width="11.29" height="11.29" fill="#4181C2"/>
<rect x="320.32" y="316.63" width="11.29" height="11.29" fill="#A7DCF6"/>
<rect x="331.01" y="316.63" width="11.29" height="11.29" fill="#4181C2"/>
<rect x="341.71" y="316.63" width="11.29" height="11.29" fill="#A7DCF6"/>
<rect x="352.41" y="316.63" width="32.69" height="11.29" fill="#4181C2"/>
<rect x="384.49" y="316.63" width="21.99" height="11.29" fill="#A7DCF6"/>
<rect x="405.88" y="316.63" width="21.99" height="11.29" fill="#4181C2"/>
<rect x="149.2" y="327.33" width="75.47" height="11.29" fill="#A7DCF6"/>
<rect x="224.06" y="327.33" width="43.38" height="11.29" fill="#4181C2"/>
<rect x="266.84" y="327.33" width="43.38" height="11.29" fill="#A7DCF6"/>
<rect x="309.62" y="327.33" width="21.99" height="11.29" fill="#4181C2"/>
<rect x="331.01" y="327.33" width="54.08" height="11.29" fill="#A7DCF6"/>
<rect x="384.49" y="327.33" width="11.29" height="11.29" fill="#4181C2"/>
<rect x="395.19" y="327.33" width="21.99" height="11.29" fill="#A7DCF6"/>
<rect x="416.57" y="327.33" width="11.29" height="11.29" fill="#4181C2"/>
<rect x="159.89" y="338.02" width="11.29" height="11.29" fill="#A7DCF6"/>
<rect x="170.59" y="338.02" width="32.69" height="11.29" fill="#EFF8FD"/>
<rect x="202.68" y="338.02" width="32.69" height="11.29" fill="#A7DCF6"/>
<rect x="234.76" y="338.02" width="11.29" height="11.29" fill="#EFF8FD"/>
<rect x="245.45" y="338.02" width="54.08" height="11.29" fill="#A7DCF6"/>
<rect x="298.93" y="338.02" width="54.08" height="11.29" fill="#4181C2"/>
<rect x="352.41" y="338.02" width="11.29" height="11.29" fill="#A7DCF6"/>
<rect x="363.1" y="338.02" width="43.38" height="11.29" fill="#4181C2"/>
<rect x="405.88" y="338.02" width="21.99" height="11.29" fill="#A7DCF6"/>
<rect x="181.28" y="348.72" width="11.29" height="11.29" fill="#FEF6E0"/>
<rect x="191.98" y="348.72" width="11.29" height="11.29" fill="#EFF8FD"/>
<rect x="202.68" y="348.72" width="107.55" height="11.29" fill="#A7DCF6"/>
<rect x="309.62" y="348.72" width="64.77" height="11.29" fill="#4181C2"/>
<rect x="373.8" y="348.72" width="64.77" height="11.29" fill="#A7DCF6"/>
<rect x="191.98" y="359.41" width="128.94" height="11.29" fill="#A7DCF6"/>
<rect x="320.32" y="359.41" width="43.38" height="11.29" fill="#4181C2"/>
<rect x="363.1" y="359.41" width="43.38" height="11.29" fill="#A7DCF6"/>
<rect x="405.88" y="359.41" width="21.99" height="11.29" fill="#EFF8FD"/>
<rect x="427.27" y="359.41" width="11.29" height="11.29" fill="#A7DCF6"/>
<rect x="213.37" y="370.11" width="21.99" height="11.29" fill="#A7DCF6"/>
<rect x="234.76" y="370.11" width="21.99" height="11.29" fill="#EFF8FD"/>
<rect x="256.15" y="370.11" width="96.85" height="11.29" fill="#A7DCF6"/>
<rect x="352.41" y="370.11" width="11.29" height="11.29" fill="#4181C2"/>
<rect x="363.1" y="370.11" width="43.38" height="11.29" fill="#A7DCF6"/>
<rect x="405.88" y="370.11" width="21.99" height="11.29" fill="#4181C2"/>
<rect x="427.27" y="370.11" width="21.99" height="11.29" fill="#A7DCF6"/>
<rect x="234.76" y="380.81" width="32.69" height="11.29" fill="#EFF8FD"/>
<rect x="266.84" y="380.81" width="161.03" height="11.29" fill="#A7DCF6"/>
<rect x="427.27" y="380.81" width="11.29" height="11.29" fill="#4181C2"/>
<rect x="437.97" y="380.81" width="11.29" height="11.29" fill="#EFF8FD"/>
<rect x="448.66" y="380.81" width="11.29" height="11.29" fill="#A7DCF6"/>
<rect x="245.45" y="391.5" width="21.99" height="11.29" fill="#EFF8FD"/>
<rect x="266.84" y="391.5" width="21.99" height="11.29" fill="#A7DCF6"/>
<rect x="288.24" y="391.5" width="21.99" height="11.29" fill="#EFF8FD"/>
<rect x="309.62" y="391.5" width="86.16" height="11.29" fill="#A7DCF6"/>
<rect x="266.84" y="402.19" width="21.99" height="11.29" fill="#EFF8FD"/>
<rect x="288.24" y="402.19" width="11.29" height="11.29" fill="#A7DCF6"/>
<rect x="298.93" y="402.19" width="21.99" height="11.29" fill="#EFF8FD"/>
<rect x="320.32" y="402.19" width="11.29" height="11.29" fill="#A7DCF6"/>
<rect x="331.01" y="402.19" width="21.99" height="11.29" fill="#4181C2"/>
<rect x="352.41" y="402.19" width="21.99" height="11.29" fill="#A7DCF6"/>
<rect x="373.8" y="402.19" width="11.29" height="11.29" fill="#EFF8FD"/>
<rect x="384.49" y="402.19" width="11.29" height="11.29" fill="#A7DCF6"/>
<rect x="288.24" y="412.89" width="11.29" height="11.29" fill="#EFF8FD"/>
<rect x="298.93" y="412.89" width="32.69" height="11.29" fill="#A7DCF6"/>
<rect x="331.01" y="412.89" width="11.29" height="11.29" fill="#4181C2"/>
<rect x="341.71" y="412.89" width="43.38" height="11.29" fill="#A7DCF6"/>
<rect x="320.32" y="423.58" width="54.08" height="11.29" fill="#A7DCF6"/>
<rect x="373.8" y="423.58" width="11.29" height="11.29" fill="#EFF8FD"/>
<polyline fill="none" stroke="#1a1a1a" stroke-width="0.75" points="197.7,89.5 203.4,94.7 207.5,99.8 217.8,105.5 228.1,102.9 235.3,96.7 238.4,96.7 242.5,99.8 250.8,100.8 252.8,97.7 251.8,94.1 258,92.6 266.2,87.4 269.3,82.3 268.8,79.2"/>
<polyline fill="none" stroke="#1a1a1a" stroke-width="0.75" points="258,92.6 266.2,96.7 272.4,100.8 277.5,103.9 275.5,108 266.2,110.1 260,115.3 253.9,122.5 247.7,129.7 243.6,134.8 239.4,136.9 242.5,138.9 238.4,144.1 238.4,149.2 241.5,154.4 242.4,158.5"/>
<polyline fill="none" stroke="#1a1a1a" stroke-width="0.75" points="238.4,149.2 233.3,151.3 224,152.3 218.8,157.5 218.3,161 218.3,166.2 224.4,175.4 201.8,175.4 201.8,181.1"/>
<polyline fill="none" stroke="#1a1a1a" stroke-width="0.75" points="149.3,172.9 153.4,173.4 159.6,176 167.8,177.5 179.1,181.6 187.4,180.6 192.5,182.1 201.8,181.1"/>
<polyline fill="none" stroke="#1a1a1a" stroke-width="0.75" points="201.8,181.1 201.8,198.1 212.1,203.3 220.3,200.7 221.4,203.3 223.4,215.6 227.1,220 241.5,232.4 253.9,234.4 266.2,235.4 272.4,242.7 277.5,244.7"/>
<polyline fill="none" stroke="#1a1a1a" stroke-width="0.75" points="242.4,158.5 248.5,158 255.7,154.4 259.9,145.1 265,142.1 271.2,144.1 279.4,142.1 287.7,141 291.6,140.5 297.8,149.2 295.7,153.4 298.8,158.5 295.7,164.7 288.5,171.9 286.5,177 281.5,183.3 277.4,190.5 270.2,185.3 258.8,180.2 247.5,175 240.3,166.8 236.2,160.6 242.4,158.5"/>
<polyline fill="none" stroke="#1a1a1a" stroke-width="0.75" points="288.5,171.9 291.8,176 305,177 306,183.2 300.9,186.3 296.8,191.5 287.5,195.6 286.5,200.1 286.1,210 279.4,218.3 283.6,222.4 284.1,233.6 280.6,241.6 277.5,244.7"/>
<polyline fill="none" stroke="#1a1a1a" stroke-width="0.75" points="306,183.2 311.2,184.3 317.4,188.4 318.4,195.6 325.6,191.5 331.8,181.2 336.9,173.9 340,176 341.1,182.2"/>
<polyline fill="none" stroke="#1a1a1a" stroke-width="0.75" points="291.6,140.5 298.5,141 305.7,140 296.5,132.8 292.4,129.7 293.4,125.6 289.3,123.5 288.2,121.4 292.4,117.3 306.8,115.3 310.9,112.2"/>
<polyline fill="none" stroke="#1a1a1a" stroke-width="0.75" points="350,243.1 341.8,250.3 335.6,257.5 329.4,262.1 319.1,260.6 303.7,256.5 294.4,262.1 290.3,260.6 288.2,255.4 290.3,245.1 289.3,243.1 280.6,241.6"/>
<polyline fill="none" stroke="#1a1a1a" stroke-width="0.75" points="277.5,244.7 276.5,250.9 278.6,255 269.3,255.5 260,254.5 268.3,258.1 270.3,263.3 271.4,269.4 271.4,274.6 275.5,276.6 274.5,281.8 277.5,285.9 279.6,292.1 278.6,298.3 282.7,301.4 290.3,301"/>
<polyline fill="none" stroke="#1a1a1a" stroke-width="0.75" points="278.6,255 288.2,255.4"/>
<polyline fill="none" stroke="#1a1a1a" stroke-width="0.75" points="231.2,282.8 243.6,280.8 253.9,275.6 262.1,274.1 271.4,274.6"/>
<polyline fill="none" stroke="#1a1a1a" stroke-width="0.75" points="231.2,282.8 236.3,290 245.6,296.2 253.9,302.4 255.6,306.5"/>
<polyline fill="none" stroke="#1a1a1a" stroke-width="0.75" points="253.9,302 266.9,296.2 279.6,292.1"/>
<polyline fill="none" stroke="#1a1a1a" stroke-width="0.75" points="255.6,306.5 244.3,311.6 235,320.9 230.9,328.1 226.8,337.4 225.7,342.5 218.5,354.9 213.4,372.4"/>
<polyline fill="none" stroke="#1a1a1a" stroke-width="0.75" points="290.3,260.6 287.2,265.7 291.3,271.9 299.6,274 310.9,284.3 317.1,287.9 327.4,295.6 335.6,303.9 339.7,310 341.8,317.2 341.8,321.4"/>
<polyline fill="none" stroke="#1a1a1a" stroke-width="0.75" points="317.1,287.9 309.9,293.6 299.6,298.7 295.4,302.8 290.3,301 284.1,299.7 280,300 279.6,292.1"/>
<polyline fill="none" stroke="#1a1a1a" stroke-width="0.75" points="290.3,301 286.2,305.9 288.2,314.1 286.2,321.4 283.1,325.1 285.1,329.3 295.4,332.4 304.7,337.5 307.8,336.5 308.8,332.4 311.9,326.2 310.9,321.4"/>
<polyline fill="none" stroke="#1a1a1a" stroke-width="0.75" points="310.9,321.4 319.1,319.3 327.4,319.3 341.8,321.4 342.8,329.3 340.8,335.4 341.8,343.7 337.7,349.9 338.7,355 352.1,358.1 367.5,359.1 375.3,367 380.5,387.1 379.4,407.7 377.4,425.2"/>
<polyline fill="none" stroke="#1a1a1a" stroke-width="0.75" points="295.4,332.4 292.5,340 290.5,348.2 289.4,353.4 284.3,358.5 278.1,361.6 275,365.7 269.9,377.1 268.8,383.3 264.7,389.4 257,400.2"/>
<polyline fill="none" stroke="#1a1a1a" stroke-width="0.75" points="375.8,268.8 372.7,270.9 369.6,283.3 370.6,291.5 374.7,299.7 374.7,305.9 365.5,305.9 352.1,307.5 339.7,310"/>
<polyline fill="none" stroke="#1a1a1a" stroke-width="0.75" points="365.4,306.8 365.4,310.9 370.6,319.1 377.8,330.5 384,335.6 385,340.8 389.1,342.3 402.5,341.8 405.6,338.7 413.9,335.6 425.2,336.1"/>
<polyline fill="none" stroke="#1a1a1a" stroke-width="0.75" points="402.5,341.8 403.6,346.9 400.5,358.3 401.5,363.4 395.3,364.4 391.8,362.9 375.3,367"/>
<polygon fill="none" stroke="#000" stroke-width="1.6" stroke-linejoin="round" points="44.5,246.9 135.7,203.6 138.8,202.1 141.9,199 148.8,186.1 148.8,169.9 151.1,157.5 155.8,150.6 155,142.1 150.5,132 151.5,118.7 156.5,111.9 174.3,108.7 196.3,88.7 200,86.4 206.2,85.2 212.4,78.4 216.1,75.3 222.2,78.4 230.9,75.9 239.6,77.7 251.9,81.5 261.8,81.5 268,78.4 275.4,79.6 279.1,83.3 276.6,88.2 280.3,92.6 286.5,89.5 295.2,84.5 301.4,85.8 305.1,90.7 306.3,96.9 303.8,99.4 305.9,101.5 311.1,103 313.3,106.7 311.9,109.6 310.4,111.9 313.3,115.6 316.3,117 320,115.9 322.2,119.3 322.2,123.7 324.5,127.4 325.9,131.1 325.2,134.1 327.4,136 332.6,134.5 337.1,136.3 341.5,143 346,142.3 355.6,140.8 359.3,143 366.7,142.6 364.5,145.2 359.3,146.7 353.4,148.2 351.9,151.9 352.6,157.8 357.1,162.3 359.3,166 357.8,167.5 360.8,169.7 359.6,173.1 355.8,174.3 354.6,175.6 350.3,173.7 347.8,176.2 347.8,179.9 346,182.4 343.5,181.4 342.2,184.8 339.8,185.5 338.5,189.2 341,192.2 341.6,196.6 333.6,196.6 332.4,194.7 331.7,199.7 329.3,200.9 330.5,205.2 334.2,206.5 334.8,210.2 334.2,213.9 331.1,215.7 329.9,218.8 327.4,221.3 331.1,222.5 336,229 342.2,236.2 348.4,235.7 350.4,238.3 347.3,241.4 352.5,242.4 355.6,248.6 360.7,251.7 361.7,254.8 359.7,257.9 355.1,257.9 359.7,261 357.6,264 364.8,265.1 374.1,267.1 382.3,272.3 393.7,279.5 401.9,286.7 408.1,284.6 412.2,286.7 415.3,291.9 419.4,297 418.4,300.1 425.6,306.3 432.8,315.5 426.6,328 425.4,340 425.4,348.5 439.5,348.5 439.5,370.8 443.9,372.2 446.1,376.3 449.1,376.7 453.6,381.5 455.8,383.7 455,386 457.3,390.4 462.5,395.2 456.5,394.9 448.4,390.4 439.5,390.8 436.5,389.3 427.6,387.4 411.3,387.4 402.4,390.4 399.4,395.6 393.9,407.7 385.8,416 379.4,426.2 366,434.4 341.7,431.3 297,425.1 256.9,400.4 213.6,373.3 192.5,362 134.1,327 100.2,305.6 84.7,301 70.8,297.9 66.2,295.6 63.1,291.7 56.9,291.7 53,288.6 53.8,282.4 50.7,268.5"/>
</g>
<rect x="40.3" y="70.5" width="427.2" height="367.8" fill="none" stroke="#111" stroke-width="1.2"/>
<path stroke="#222" stroke-width="1.05" d="M53.28 438.3L53.28 444.3M53.28 70.5L53.28 64.5M96 438.3L96 450.3M96 70.5L96 58.5M138.72 438.3L138.72 444.3M138.72 70.5L138.72 64.5M181.44 438.3L181.44 444.3M181.44 70.5L181.44 64.5M224.16 438.3L224.16 444.3M224.16 70.5L224.16 64.5M266.88 438.3L266.88 444.3M266.88 70.5L266.88 64.5M309.6 438.3L309.6 450.3M309.6 70.5L309.6 58.5M352.32 438.3L352.32 444.3M352.32 70.5L352.32 64.5M395.04 438.3L395.04 444.3M395.04 70.5L395.04 64.5M437.76 438.3L437.76 444.3M437.76 70.5L437.76 64.5M40.3 434.18L34.3 434.18M467.5 434.18L473.5 434.18M40.3 391.4L28.3 391.4M467.5 391.4L479.5 391.4M40.3 348.62L34.3 348.62M467.5 348.62L473.5 348.62M40.3 305.84L34.3 305.84M467.5 305.84L473.5 305.84M40.3 263.06L34.3 263.06M467.5 263.06L473.5 263.06M40.3 220.28L34.3 220.28M467.5 220.28L473.5 220.28M40.3 177.5L28.3 177.5M467.5 177.5L479.5 177.5M40.3 134.72L34.3 134.72M467.5 134.72L473.5 134.72M40.3 91.94L34.3 91.94M467.5 91.94L473.5 91.94"/>
<text x="20.3" y="181.6" text-anchor="end" font-size="11.8" font-family="Liberation Sans, sans-serif">35N</text>
<text x="20.3" y="395.2" text-anchor="end" font-size="11.6" font-family="Liberation Sans, sans-serif">30N</text>
<text x="96.0" y="467.3" text-anchor="middle" font-size="11" font-family="Liberation Sans, sans-serif">40E</text>
<text x="309.6" y="467.3" text-anchor="middle" font-size="11" font-family="Liberation Sans, sans-serif">45E</text>
<text x="40.5" y="51.7" font-size="14.2" font-family="Liberation Sans, sans-serif">TRMM 3B42RT</text>
<text x="468" y="51.7" text-anchor="end" font-size="14.2" font-family="Liberation Sans, sans-serif">run=12</text>
</g>
<g transform="translate(0,434.9)">
<clipPath id="c2"><rect x="40.3" y="70.5" width="427.2" height="367.8"/></clipPath>
<g clip-path="url(#c2)" class="cl">
<rect x="202.68" y="81.35" width="11.29" height="11.29" fill="#A7DCF6"/>
<rect x="213.37" y="81.35" width="11.29" height="11.29" fill="#4181C2"/>
<rect x="224.06" y="81.35" width="54.08" height="11.29" fill="#A7DCF6"/>
<rect x="288.24" y="81.35" width="11.29" height="11.29" fill="#EFF8FD"/>
<rect x="191.98" y="92.04" width="11.29" height="11.29" fill="#FEF6E0"/>
<rect x="202.68" y="92.04" width="11.29" height="11.29" fill="#EFF8FD"/>
<rect x="213.37" y="92.04" width="21.99" height="11.29" fill="#A7DCF6"/>
<rect x="234.76" y="92.04" width="21.99" height="11.29" fill="#EFF8FD"/>
<rect x="256.15" y="92.04" width="32.69" height="11.29" fill="#A7DCF6"/>
<rect x="288.24" y="92.04" width="11.29" height="11.29" fill="#FEF6E0"/>
<rect x="298.93" y="92.04" width="11.29" height="11.29" fill="#FDB441"/>
<rect x="181.28" y="102.73" width="11.29" height="11.29" fill="#EFF8FD"/>
<rect x="191.98" y="102.73" width="11.29" height="11.29" fill="#A7DCF6"/>
<rect x="202.68" y="102.73" width="64.77" height="11.29" fill="#EFF8FD"/>
<rect x="266.84" y="102.73" width="11.29" height="11.29" fill="#A7DCF6"/>
<rect x="277.54" y="102.73" width="11.29" height="11.29" fill="#4181C2"/>
<rect x="288.24" y="102.73" width="11.29" height="11.29" fill="#EFF8FD"/>
<rect x="298.93" y="102.73" width="11.29" height="11.29" fill="#FEF6E0"/>
<rect x="149.2" y="113.43" width="64.77" height="11.29" fill="#A7DCF6"/>
<rect x="213.37" y="113.43" width="54.08" height="11.29" fill="#EFF8FD"/>
<rect x="266.84" y="113.43" width="32.69" height="11.29" fill="#A7DCF6"/>
<rect x="298.93" y="113.43" width="11.29" height="11.29" fill="#EFF8FD"/>
<rect x="149.2" y="124.13" width="75.47" height="11.29" fill="#A7DCF6"/>
<rect x="224.06" y="124.13" width="21.99" height="11.29" fill="#EFF8FD"/>
<rect x="245.45" y="124.13" width="32.69" height="11.29" fill="#A7DCF6"/>
<rect x="277.54" y="124.13" width="21.99" height="11.29" fill="#4181C2"/>
<rect x="298.93" y="124.13" width="11.29" height="11.29" fill="#EFF8FD"/>
<rect x="309.62" y="124.13" width="11.29" height="11.29" fill="#4181C2"/>
<rect x="149.2" y="134.82" width="107.55" height="11.29" fill="#A7DCF6"/>
<rect x="256.15" y="134.82" width="11.29" height="11.29" fill="#EFF8FD"/>
<rect x="266.84" y="134.82" width="21.99" height="11.29" fill="#A7DCF6"/>
<rect x="288.24" y="134.82" width="32.69" height="11.29" fill="#4181C2"/>
<rect x="320.32" y="134.82" width="11.29" height="11.29" fill="#A7DCF6"/>
<rect x="331.01" y="134.82" width="11.29" height="11.29" fill="#4181C2"/>
<rect x="149.2" y="145.51" width="11.29" height="11.29" fill="#EFF8FD"/>
<rect x="159.89" y="145.51" width="54.08" height="11.29" fill="#A7DCF6"/>
<rect x="213.37" y="145.51" width="21.99" height="11.29" fill="#4181C2"/>
<rect x="234.76" y="145.51" width="43.38" height="11.29" fill="#A7DCF6"/>
<rect x="277.54" y="145.51" width="54.08" height="11.29" fill="#4181C2"/>
<rect x="331.01" y="145.51" width="21.99" height="11.29" fill="#A7DCF6"/>
<rect x="149.2" y="156.21" width="11.29" height="11.29" fill="#A7DCF6"/>
<rect x="159.89" y="156.21" width="11.29" height="11.29" fill="#EFF8FD"/>
<rect x="170.59" y="156.21" width="43.38" height="11.29" fill="#A7DCF6"/>
<rect x="213.37" y="156.21" width="11.29" height="11.29" fill="#4181C2"/>
<rect x="224.06" y="156.21" width="43.38" height="11.29" fill="#A7DCF6"/>
<rect x="266.84" y="156.21" width="54.08" height="11.29" fill="#4181C2"/>
<rect x="320.32" y="156.21" width="21.99" height="11.29" fill="#A7DCF6"/>
<rect x="341.71" y="156.21" width="11.29" height="11.29" fill="#EFF8FD"/>
<rect x="149.2" y="166.9" width="32.69" height="11.29" fill="#A7DCF6"/>
<rect x="181.28" y="166.9" width="21.99" height="11.29" fill="#EFF8FD"/>
<rect x="202.68" y="166.9" width="21.99" height="11.29" fill="#A7DCF6"/>
<rect x="224.06" y="166.9" width="96.85" height="11.29" fill="#4181C2"/>
<rect x="320.32" y="166.9" width="11.29" height="11.29" fill="#A7DCF6"/>
<rect x="331.01" y="166.9" width="11.29" height="11.29" fill="#EFF8FD"/>
<rect x="341.71" y="166.9" width="21.99" height="11.29" fill="#FEF6E0"/>
<rect x="149.2" y="177.6" width="21.99" height="11.29" fill="#EFF8FD"/>
<rect x="170.59" y="177.6" width="11.29" height="11.29" fill="#FEF6E0"/>
<rect x="181.28" y="177.6" width="43.38" height="11.29" fill="#EFF8FD"/>
<rect x="224.06" y="177.6" width="11.29" height="11.29" fill="#A7DCF6"/>
<rect x="234.76" y="177.6" width="64.77" height="11.29" fill="#4181C2"/>
<rect x="298.93" y="177.6" width="21.99" height="11.29" fill="#A7DCF6"/>
<rect x="320.32" y="177.6" width="11.29" height="11.29" fill="#4181C2"/>
<rect x="331.01" y="177.6" width="11.29" height="11.29" fill="#A7DCF6"/>
<rect x="138.5" y="188.3" width="11.29" height="11.29" fill="#A7DCF6"/>
<rect x="149.2" y="188.3" width="11.29" height="11.29" fill="#EFF8FD"/>
<rect x="159.89" y="188.3" width="32.69" height="11.29" fill="#FEF6E0"/>
<rect x="191.98" y="188.3" width="11.29" height="11.29" fill="#EFF8FD"/>
<rect x="202.68" y="188.3" width="11.29" height="11.29" fill="#FEF6E0"/>
<rect x="213.37" y="188.3" width="21.99" height="11.29" fill="#A7DCF6"/>
<rect x="234.76" y="188.3" width="21.99" height="11.29" fill="#4181C2"/>
<rect x="256.15" y="188.3" width="43.38" height="11.29" fill="#A7DCF6"/>
<rect x="298.93" y="188.3" width="32.69" height="11.29" fill="#4181C2"/>
<rect x="331.01" y="188.3" width="11.29" height="11.29" fill="#EFF8FD"/>
<rect x="138.5" y="198.99" width="11.29" height="11.29" fill="#EFF8FD"/>
<rect x="149.2" y="198.99" width="32.69" height="11.29" fill="#A7DCF6"/>
<rect x="181.28" y="198.99" width="21.99" height="11.29" fill="#EFF8FD"/>
<rect x="202.68" y="198.99" width="11.29" height="11.29" fill="#A7DCF6"/>
<rect x="213.37" y="198.99" width="21.99" height="11.29" fill="#EFF8FD"/>
<rect x="234.76" y="198.99" width="11.29" height="11.29" fill="#FEF6E0"/>
<rect x="245.45" y="198.99" width="11.29" height="11.29" fill="#EFF8FD"/>
<rect x="256.15" y="198.99" width="11.29" height="11.29" fill="#A7DCF6"/>
<rect x="266.84" y="198.99" width="11.29" height="11.29" fill="#EFF8FD"/>
<rect x="277.54" y="198.99" width="54.08" height="11.29" fill="#4181C2"/>
<rect x="106.42" y="209.69" width="75.47" height="11.29" fill="#A7DCF6"/>
<rect x="181.28" y="209.69" width="21.99" height="11.29" fill="#EFF8FD"/>
<rect x="202.68" y="209.69" width="11.29" height="11.29" fill="#A7DCF6"/>
<rect x="213.37" y="209.69" width="11.29" height="11.29" fill="#FEF6E0"/>
<rect x="224.06" y="209.69" width="21.99" height="11.29" fill="#A7DCF6"/>
<rect x="245.45" y="209.69" width="11.29" height="11.29" fill="#FEF6E0"/>
<rect x="256.15" y="209.69" width="11.29" height="11.29" fill="#A7DCF6"/>
<rect x="266.84" y="209.69" width="64.77" height="11.29" fill="#4181C2"/>
<rect x="85.03" y="220.38" width="128.94" height="11.29" fill="#A7DCF6"/>
<rect x="213.37" y="220.38" width="11.29" height="11.29" fill="#FEF6E0"/>
<rect x="224.06" y="220.38" width="21.99" height="11.29" fill="#A7DCF6"/>
<rect x="245.45" y="220.38" width="11.29" height="11.29" fill="#EFF8FD"/>
<rect x="256.15" y="220.38" width="11.29" height="11.29" fill="#A7DCF6"/>
<rect x="266.84" y="220.38" width="54.08" height="11.29" fill="#4181C2"/>
<rect x="320.32" y="220.38" width="11.29" height="11.29" fill="#1B2A61"/>
<rect x="63.64" y="231.07" width="11.29" height="11.29" fill="#4181C2"/>
<rect x="74.33" y="231.07" width="43.38" height="11.29" fill="#A7DCF6"/>
<rect x="117.12" y="231.07" width="11.29" height="11.29" fill="#4181C2"/>
<rect x="127.81" y="231.07" width="11.29" height="11.29" fill="#A7DCF6"/>
<rect x="138.5" y="231.07" width="21.99" height="11.29" fill="#4181C2"/>
<rect x="159.89" y="231.07" width="54.08" height="11.29" fill="#A7DCF6"/>
<rect x="213.37" y="231.07" width="21.99" height="11.29" fill="#EFF8FD"/>
<rect x="234.76" y="231.07" width="11.29" height="11.29" fill="#A7DCF6"/>
<rect x="245.45" y="231.07" width="11.29" height="11.29" fill="#EFF8FD"/>
<rect x="256.15" y="231.07" width="11.29" height="11.29" fill="#A7DCF6"/>
<rect x="266.84" y="231.07" width="43.38" height="11.29" fill="#4181C2"/>
<rect x="309.62" y="231.07" width="21.99" height="11.29" fill="#1B2A61"/>
<rect x="331.01" y="231.07" width="11.29" height="11.29" fill="#4181C2"/>
<rect x="42.25" y="241.77" width="54.08" height="11.29" fill="#4181C2"/>
<rect x="95.73" y="241.77" width="43.38" height="11.29" fill="#A7DCF6"/>
<rect x="138.5" y="241.77" width="21.99" height="11.29" fill="#4181C2"/>
<rect x="159.89" y="241.77" width="43.38" height="11.29" fill="#A7DCF6"/>
<rect x="202.68" y="241.77" width="21.99" height="11.29" fill="#EFF8FD"/>
<rect x="224.06" y="241.77" width="21.99" height="11.29" fill="#FEF6E0"/>
<rect x="245.45" y="241.77" width="21.99" height="11.29" fill="#EFF8FD"/>
<rect x="266.84" y="241.77" width="11.29" height="11.29" fill="#A7DCF6"/>
<rect x="277.54" y="241.77" width="21.99" height="11.29" fill="#4181C2"/>
<rect x="298.93" y="241.77" width="11.29" height="11.29" fill="#1B2A61"/>
<rect x="309.62" y="241.77" width="43.38" height="11.29" fill="#4181C2"/>
<rect x="42.25" y="252.46" width="32.69" height="11.29" fill="#4181C2"/>
<rect x="74.33" y="252.46" width="11.29" height="11.29" fill="#A7DCF6"/>
<rect x="85.03" y="252.46" width="21.99" height="11.29" fill="#4181C2"/>
<rect x="106.42" y="252.46" width="21.99" height="11.29" fill="#A7DCF6"/>
<rect x="127.81" y="252.46" width="32.69" height="11.29" fill="#4181C2"/>
<rect x="159.89" y="252.46" width="32.69" height="11.29" fill="#A7DCF6"/>
<rect x="191.98" y="252.46" width="32.69" height="11.29" fill="#EFF8FD"/>
<rect x="224.06" y="252.46" width="11.29" height="11.29" fill="#FEF6E0"/>
<rect x="234.76" y="252.46" width="32.69" height="11.29" fill="#EFF8FD"/>
<rect x="266.84" y="252.46" width="11.29" height="11.29" fill="#A7DCF6"/>
<rect x="277.54" y="252.46" width="86.16" height="11.29" fill="#4181C2"/>
<rect x="52.95" y="263.16" width="21.99" height="11.29" fill="#A7DCF6"/>
<rect x="74.33" y="263.16" width="11.29" height="11.29" fill="#4181C2"/>
<rect x="85.03" y="263.16" width="11.29" height="11.29" fill="#A7DCF6"/>
<rect x="95.73" y="263.16" width="86.16" height="11.29" fill="#4181C2"/>
<rect x="181.28" y="263.16" width="11.29" height="11.29" fill="#A7DCF6"/>
<rect x="191.98" y="263.16" width="21.99" height="11.29" fill="#4181C2"/>
<rect x="213.37" y="263.16" width="11.29" height="11.29" fill="#A7DCF6"/>
<rect x="224.06" y="263.16" width="11.29" height="11.29" fill="#EFF8FD"/>
<rect x="234.76" y="263.16" width="11.29" height="11.29" fill="#FDB441"/>
<rect x="245.45" y="263.16" width="21.99" height="11.29" fill="#EFF8FD"/>
<rect x="266.84" y="263.16" width="11.29" height="11.29" fill="#4181C2"/>
<rect x="277.54" y="263.16" width="11.29" height="11.29" fill="#A7DCF6"/>
<rect x="288.24" y="263.16" width="54.08" height="11.29" fill="#4181C2"/>
<rect x="341.71" y="263.16" width="11.29" height="11.29" fill="#A7DCF6"/>
<rect x="352.41" y="263.16" width="21.99" height="11.29" fill="#4181C2"/>
<rect x="52.95" y="273.86" width="32.69" height="11.29" fill="#4181C2"/>
<rect x="85.03" y="273.86" width="11.29" height="11.29" fill="#A7DCF6"/>
<rect x="95.73" y="273.86" width="21.99" height="11.29" fill="#4181C2"/>
<rect x="117.12" y="273.86" width="11.29" height="11.29" fill="#1B2A61"/>
<rect x="127.81" y="273.86" width="11.29" height="11.29" fill="#4181C2"/>
<rect x="138.5" y="273.86" width="11.29" height="11.29" fill="#A7DCF6"/>
<rect x="149.2" y="273.86" width="32.69" height="11.29" fill="#4181C2"/>
<rect x="181.28" y="273.86" width="11.29" height="11.29" fill="#A7DCF6"/>
<rect x="191.98" y="273.86" width="32.69" height="11.29" fill="#EFF8FD"/>
<rect x="224.06" y="273.86" width="11.29" height="11.29" fill="#A7DCF6"/>
<rect x="234.76" y="273.86" width="11.29" height="11.29" fill="#FDB441"/>
<rect x="245.45" y="273.86" width="11.29" height="11.29" fill="#A7DCF6"/>
<rect x="256.15" y="273.86" width="21.99" height="11.29" fill="#EFF8FD"/>
<rect x="277.54" y="273.86" width="21.99" height="11.29" fill="#4181C2"/>
<rect x="298.93" y="273.86" width="21.99" height="11.29" fill="#A7DCF6"/>
<rect x="320.32" y="273.86" width="21.99" height="11.29" fill="#4181C2"/>
<rect x="341.71" y="273.86" width="11.29" height="11.29" fill="#A7DCF6"/>
<rect x="352.41" y="273.86" width="21.99" height="11.29" fill="#4181C2"/>
<rect x="373.8" y="273.86" width="21.99" height="11.29" fill="#A7DCF6"/>
<rect x="52.95" y="284.55" width="11.29" height="11.29" fill="#4181C2"/>
<rect x="63.64" y="284.55" width="32.69" height="11.29" fill="#A7DCF6"/>
<rect x="95.73" y="284.55" width="11.29" height="11.29" fill="#4181C2"/>
<rect x="106.42" y="284.55" width="43.38" height="11.29" fill="#A7DCF6"/>
<rect x="149.2" y="284.55" width="43.38" height="11.29" fill="#4181C2"/>
<rect x="191.98" y="284.55" width="11.29" height="11.29" fill="#A7DCF6"/>
<rect x="202.68" y="284.55" width="21.99" height="11.29" fill="#EFF8FD"/>
<rect x="224.06" y="284.55" width="11.29" height="11.29" fill="#4181C2"/>
<rect x="234.76" y="284.55" width="11.29" height="11.29" fill="#FEF6E0"/>
<rect x="245.45" y="284.55" width="11.29" height="11.29" fill="#FDB441"/>
<rect x="256.15" y="284.55" width="21.99" height="11.29" fill="#EFF8FD"/>
<rect x="277.54" y="284.55" width="11.29" height="11.29" fill="#A7DCF6"/>
<rect x="288.24" y="284.55" width="11.29" height="11.29" fill="#EFF8FD"/>
<rect x="298.93" y="284.55" width="64.77" height="11.29" fill="#4181C2"/>
<rect x="363.1" y="284.55" width="43.38" height="11.29" fill="#A7DCF6"/>
<rect x="405.88" y="284.55" width="11.29" height="11.29" fill="#EFF8FD"/>
<rect x="85.03" y="295.25" width="11.29" height="11.29" fill="#EFF8FD"/>
<rect x="95.73" y="295.25" width="11.29" height="11.29" fill="#A7DCF6"/>
<rect x="106.42" y="295.25" width="11.29" height="11.29" fill="#EFF8FD"/>
<rect x="117.12" y="295.25" width="32.69" height="11.29" fill="#A7DCF6"/>
<rect x="149.2" y="295.25" width="21.99" height="11.29" fill="#4181C2"/>
<rect x="170.59" y="295.25" width="11.29" height="11.29" fill="#A7DCF6"/>
<rect x="181.28" y="295.25" width="11.29" height="11.29" fill="#4181C2"/>
<rect x="191.98" y="295.25" width="11.29" height="11.29" fill="#A7DCF6"/>
<rect x="202.68" y="295.25" width="11.29" height="11.29" fill="#4181C2"/>
<rect x="213.37" y="295.25" width="11.29" height="11.29" fill="#A7DCF6"/>
<rect x="224.06" y="295.25" width="21.99" height="11.29" fill="#4181C2"/>
<rect x="245.45" y="295.25" width="32.69" height="11.29" fill="#A7DCF6"/>
<rect x="277.54" y="295.25" width="43.38" height="11.29" fill="#4181C2"/>
<rect x="320.32" y="295.25" width="11.29" height="11.29" fill="#1B2A61"/>
<rect x="331.01" y="295.25" width="43.38" height="11.29" fill="#4181C2"/>
<rect x="373.8" y="295.25" width="11.29" height="11.29" fill="#EFF8FD"/>
<rect x="384.49" y="295.25" width="21.99" height="11.29" fill="#A7DCF6"/>
<rect x="405.88" y="295.25" width="11.29" height="11.29" fill="#EFF8FD"/>
<rect x="106.42" y="305.94" width="11.29" height="11.29" fill="#EFF8FD"/>
<rect x="117.12" y="305.94" width="11.29" height="11.29" fill="#A7DCF6"/>
<rect x="127.81" y="305.94" width="11.29" height="11.29" fill="#4181C2"/>
<rect x="138.5" y="305.94" width="11.29" height="11.29" fill="#EFF8FD"/>
<rect x="149.2" y="305.94" width="11.29" height="11.29" fill="#A7DCF6"/>
<rect x="159.89" y="305.94" width="11.29" height="11.29" fill="#4181C2"/>
<rect x="170.59" y="305.94" width="32.69" height="11.29" fill="#A7DCF6"/>
<rect x="202.68" y="305.94" width="11.29" height="11.29" fill="#4181C2"/>
<rect x="213.37" y="305.94" width="11.29" height="11.29" fill="#A7DCF6"/>
<rect x="224.06" y="305.94" width="21.99" height="11.29" fill="#4181C2"/>
<rect x="245.45" y="305.94" width="11.29" height="11.29" fill="#A7DCF6"/>
<rect x="256.15" y="305.94" width="11.29" height="11.29" fill="#4181C2"/>
<rect x="266.84" y="305.94" width="21.99" height="11.29" fill="#A7DCF6"/>
<rect x="288.24" y="305.94" width="86.16" height="11.29" fill="#4181C2"/>
<rect x="373.8" y="305.94" width="21.99" height="11.29" fill="#A7DCF6"/>
<rect x="395.19" y="305.94" width="11.29" height="11.29" fill="#4181C2"/>
<rect x="405.88" y="305.94" width="21.99" height="11.29" fill="#A7DCF6"/>
<rect x="127.81" y="316.63" width="11.29" height="11.29" fill="#EFF8FD"/>
<rect x="138.5" y="316.63" width="11.29" height="11.29" fill="#A7DCF6"/>
<rect x="149.2" y="316.63" width="11.29" height="11.29" fill="#EFF8FD"/>
<rect x="159.89" y="316.63" width="21.99" height="11.29" fill="#A7DCF6"/>
<rect x="181.28" y="316.63" width="11.29" height="11.29" fill="#4181C2"/>
<rect x="191.98" y="316.63" width="11.29" height="11.29" fill="#A7DCF6"/>
<rect x="202.68" y="316.63" width="54.08" height="11.29" fill="#4181C2"/>
<rect x="256.15" y="316.63" width="21.99" height="11.29" fill="#A7DCF6"/>
<rect x="277.54" y="316.63" width="64.77" height="11.29" fill="#4181C2"/>
<rect x="341.71" y="316.63" width="32.69" height="11.29" fill="#A7DCF6"/>
<rect x="373.8" y="316.63" width="21.99" height="11.29" fill="#4181C2"/>
<rect x="395.19" y="316.63" width="11.29" height="11.29" fill="#A7DCF6"/>
<rect x="405.88" y="316.63" width="21.99" height="11.29" fill="#4181C2"/>
<rect x="149.2" y="327.33" width="21.99" height="11.29" fill="#A7DCF6"/>
<rect x="170.59" y="327.33" width="11.29" height="11.29" fill="#EFF8FD"/>
<rect x="181.28" y="327.33" width="21.99" height="11.29" fill="#A7DCF6"/>
<rect x="202.68" y="327.33" width="54.08" height="11.29" fill="#4181C2"/>
<rect x="256.15" y="327.33" width="32.69" height="11.29" fill="#A7DCF6"/>
<rect x="288.24" y="327.33" width="32.69" height="11.29" fill="#4181C2"/>
<rect x="320.32" y="327.33" width="11.29" height="11.29" fill="#A7DCF6"/>
<rect x="331.01" y="327.33" width="11.29" height="11.29" fill="#EFF8FD"/>
<rect x="341.71" y="327.33" width="86.16" height="11.29" fill="#A7DCF6"/>
<rect x="159.89" y="338.02" width="21.99" height="11.29" fill="#A7DCF6"/>
<rect x="181.28" y="338.02" width="21.99" height="11.29" fill="#EFF8FD"/>
<rect x="202.68" y="338.02" width="21.99" height="11.29" fill="#4181C2"/>
<rect x="224.06" y="338.02" width="11.29" height="11.29" fill="#A7DCF6"/>
<rect x="234.76" y="338.02" width="11.29" height="11.29" fill="#EFF8FD"/>
<rect x="245.45" y="338.02" width="32.69" height="11.29" fill="#A7DCF6"/>
<rect x="277.54" y="338.02" width="32.69" height="11.29" fill="#4181C2"/>
<rect x="309.62" y="338.02" width="118.25" height="11.29" fill="#A7DCF6"/>
<rect x="181.28" y="348.72" width="11.29" height="11.29" fill="#FEF6E0"/>
<rect x="191.98" y="348.72" width="11.29" height="11.29" fill="#EFF8FD"/>
<rect x="202.68" y="348.72" width="21.99" height="11.29" fill="#A7DCF6"/>
<rect x="224.06" y="348.72" width="11.29" height="11.29" fill="#EFF8FD"/>
<rect x="234.76" y="348.72" width="64.77" height="11.29" fill="#A7DCF6"/>
<rect x="298.93" y="348.72" width="11.29" height="11.29" fill="#4181C2"/>
<rect x="309.62" y="348.72" width="75.47" height="11.29" fill="#A7DCF6"/>
<rect x="384.49" y="348.72" width="11.29" height="11.29" fill="#EFF8FD"/>
<rect x="395.19" y="348.72" width="43.38" height="11.29" fill="#A7DCF6"/>
<rect x="191.98" y="359.41" width="32.69" height="11.29" fill="#A7DCF6"/>
<rect x="224.06" y="359.41" width="11.29" height="11.29" fill="#EFF8FD"/>
<rect x="234.76" y="359.41" width="11.29" height="11.29" fill="#A7DCF6"/>
<rect x="245.45" y="359.41" width="32.69" height="11.29" fill="#EFF8FD"/>
<rect x="277.54" y="359.41" width="96.85" height="11.29" fill="#A7DCF6"/>
<rect x="373.8" y="359.41" width="54.08" height="11.29" fill="#EFF8FD"/>
<rect x="427.27" y="359.41" width="11.29" height="11.29" fill="#A7DCF6"/>
<rect x="213.37" y="370.11" width="11.29" height="11.29" fill="#A7DCF6"/>
<rect x="224.06" y="370.11" width="54.08" height="11.29" fill="#EFF8FD"/>
<rect x="277.54" y="370.11" width="32.69" height="11.29" fill="#A7DCF6"/>
<rect x="309.62" y="370.11" width="11.29" height="11.29" fill="#EFF8FD"/>
<rect x="320.32" y="370.11" width="64.77" height="11.29" fill="#A7DCF6"/>
<rect x="384.49" y="370.11" width="21.99" height="11.29" fill="#EFF8FD"/>
<rect x="405.88" y="370.11" width="32.69" height="11.29" fill="#A7DCF6"/>
<rect x="437.97" y="370.11" width="11.29" height="11.29" fill="#EFF8FD"/>
<rect x="234.76" y="380.81" width="43.38" height="11.29" fill="#EFF8FD"/>
<rect x="277.54" y="380.81" width="11.29" height="11.29" fill="#A7DCF6"/>
<rect x="288.24" y="380.81" width="43.38" height="11.29" fill="#EFF8FD"/>
<rect x="331.01" y="380.81" width="54.08" height="11.29" fill="#A7DCF6"/>
<rect x="384.49" y="380.81" width="32.69" height="11.29" fill="#EFF8FD"/>
<rect x="416.57" y="380.81" width="21.99" height="11.29" fill="#A7DCF6"/>
<rect x="437.97" y="380.81" width="11.29" height="11.29" fill="#FEF6E0"/>
<rect x="448.66" y="380.81" width="11.29" height="11.29" fill="#EFF8FD"/>
<rect x="245.45" y="391.5" width="21.99" height="11.29" fill="#EFF8FD"/>
<rect x="266.84" y="391.5" width="21.99" height="11.29" fill="#A7DCF6"/>
<rect x="288.24" y="391.5" width="32.69" height="11.29" fill="#EFF8FD"/>
<rect x="320.32" y="391.5" width="43.38" height="11.29" fill="#A7DCF6"/>
<rect x="363.1" y="391.5" width="21.99" height="11.29" fill="#EFF8FD"/>
<rect x="384.49" y="391.5" width="11.29" height="11.29" fill="#A7DCF6"/>
<rect x="266.84" y="402.19" width="11.29" height="11.29" fill="#EFF8FD"/>
<rect x="277.54" y="402.19" width="11.29" height="11.29" fill="#A7DCF6"/>
<rect x="288.24" y="402.19" width="32.69" height="11.29" fill="#EFF8FD"/>
<rect x="320.32" y="402.19" width="43.38" height="11.29" fill="#A7DCF6"/>
<rect x="363.1" y="402.19" width="32.69" height="11.29" fill="#EFF8FD"/>
<rect x="288.24" y="412.89" width="32.69" height="11.29" fill="#EFF8FD"/>
<rect x="320.32" y="412.89" width="32.69" height="11.29" fill="#A7DCF6"/>
<rect x="352.41" y="412.89" width="32.69" height="11.29" fill="#EFF8FD"/>
<rect x="320.32" y="423.58" width="21.99" height="11.29" fill="#A7DCF6"/>
<rect x="341.71" y="423.58" width="11.29" height="11.29" fill="#EFF8FD"/>
<rect x="352.41" y="423.58" width="21.99" height="11.29" fill="#A7DCF6"/>
<polyline fill="none" stroke="#1a1a1a" stroke-width="0.75" points="197.7,89.5 203.4,94.7 207.5,99.8 217.8,105.5 228.1,102.9 235.3,96.7 238.4,96.7 242.5,99.8 250.8,100.8 252.8,97.7 251.8,94.1 258,92.6 266.2,87.4 269.3,82.3 268.8,79.2"/>
<polyline fill="none" stroke="#1a1a1a" stroke-width="0.75" points="258,92.6 266.2,96.7 272.4,100.8 277.5,103.9 275.5,108 266.2,110.1 260,115.3 253.9,122.5 247.7,129.7 243.6,134.8 239.4,136.9 242.5,138.9 238.4,144.1 238.4,149.2 241.5,154.4 242.4,158.5"/>
<polyline fill="none" stroke="#1a1a1a" stroke-width="0.75" points="238.4,149.2 233.3,151.3 224,152.3 218.8,157.5 218.3,161 218.3,166.2 224.4,175.4 201.8,175.4 201.8,181.1"/>
<polyline fill="none" stroke="#1a1a1a" stroke-width="0.75" points="149.3,172.9 153.4,173.4 159.6,176 167.8,177.5 179.1,181.6 187.4,180.6 192.5,182.1 201.8,181.1"/>
<polyline fill="none" stroke="#1a1a1a" stroke-width="0.75" points="201.8,181.1 201.8,198.1 212.1,203.3 220.3,200.7 221.4,203.3 223.4,215.6 227.1,220 241.5,232.4 253.9,234.4 266.2,235.4 272.4,242.7 277.5,244.7"/>
<polyline fill="none" stroke="#1a1a1a" stroke-width="0.75" points="242.4,158.5 248.5,158 255.7,154.4 259.9,145.1 265,142.1 271.2,144.1 279.4,142.1 287.7,141 291.6,140.5 297.8,149.2 295.7,153.4 298.8,158.5 295.7,164.7 288.5,171.9 286.5,177 281.5,183.3 277.4,190.5 270.2,185.3 258.8,180.2 247.5,175 240.3,166.8 236.2,160.6 242.4,158.5"/>
<polyline fill="none" stroke="#1a1a1a" stroke-width="0.75" points="288.5,171.9 291.8,176 305,177 306,183.2 300.9,186.3 296.8,191.5 287.5,195.6 286.5,200.1 286.1,210 279.4,218.3 283.6,222.4 284.1,233.6 280.6,241.6 277.5,244.7"/>
<polyline fill="none" stroke="#1a1a1a" stroke-width="0.75" points="306,183.2 311.2,184.3 317.4,188.4 318.4,195.6 325.6,191.5 331.8,181.2 336.9,173.9 340,176 341.1,182.2"/>
<polyline fill="none" stroke="#1a1a1a" stroke-width="0.75" points="291.6,140.5 298.5,141 305.7,140 296.5,132.8 292.4,129.7 293.4,125.6 289.3,123.5 288.2,121.4 292.4,117.3 306.8,115.3 310.9,112.2"/>
<polyline fill="none" stroke="#1a1a1a" stroke-width="0.75" points="350,243.1 341.8,250.3 335.6,257.5 329.4,262.1 319.1,260.6 303.7,256.5 294.4,262.1 290.3,260.6 288.2,255.4 290.3,245.1 289.3,243.1 280.6,241.6"/>
<polyline fill="none" stroke="#1a1a1a" stroke-width="0.75" points="277.5,244.7 276.5,250.9 278.6,255 269.3,255.5 260,254.5 268.3,258.1 270.3,263.3 271.4,269.4 271.4,274.6 275.5,276.6 274.5,281.8 277.5,285.9 279.6,292.1 278.6,298.3 282.7,301.4 290.3,301"/>
<polyline fill="none" stroke="#1a1a1a" stroke-width="0.75" points="278.6,255 288.2,255.4"/>
<polyline fill="none" stroke="#1a1a1a" stroke-width="0.75" points="231.2,282.8 243.6,280.8 253.9,275.6 262.1,274.1 271.4,274.6"/>
<polyline fill="none" stroke="#1a1a1a" stroke-width="0.75" points="231.2,282.8 236.3,290 245.6,296.2 253.9,302.4 255.6,306.5"/>
<polyline fill="none" stroke="#1a1a1a" stroke-width="0.75" points="253.9,302 266.9,296.2 279.6,292.1"/>
<polyline fill="none" stroke="#1a1a1a" stroke-width="0.75" points="255.6,306.5 244.3,311.6 235,320.9 230.9,328.1 226.8,337.4 225.7,342.5 218.5,354.9 213.4,372.4"/>
<polyline fill="none" stroke="#1a1a1a" stroke-width="0.75" points="290.3,260.6 287.2,265.7 291.3,271.9 299.6,274 310.9,284.3 317.1,287.9 327.4,295.6 335.6,303.9 339.7,310 341.8,317.2 341.8,321.4"/>
<polyline fill="none" stroke="#1a1a1a" stroke-width="0.75" points="317.1,287.9 309.9,293.6 299.6,298.7 295.4,302.8 290.3,301 284.1,299.7 280,300 279.6,292.1"/>
<polyline fill="none" stroke="#1a1a1a" stroke-width="0.75" points="290.3,301 286.2,305.9 288.2,314.1 286.2,321.4 283.1,325.1 285.1,329.3 295.4,332.4 304.7,337.5 307.8,336.5 308.8,332.4 311.9,326.2 310.9,321.4"/>
<polyline fill="none" stroke="#1a1a1a" stroke-width="0.75" points="310.9,321.4 319.1,319.3 327.4,319.3 341.8,321.4 342.8,329.3 340.8,335.4 341.8,343.7 337.7,349.9 338.7,355 352.1,358.1 367.5,359.1 375.3,367 380.5,387.1 379.4,407.7 377.4,425.2"/>
<polyline fill="none" stroke="#1a1a1a" stroke-width="0.75" points="295.4,332.4 292.5,340 290.5,348.2 289.4,353.4 284.3,358.5 278.1,361.6 275,365.7 269.9,377.1 268.8,383.3 264.7,389.4 257,400.2"/>
<polyline fill="none" stroke="#1a1a1a" stroke-width="0.75" points="375.8,268.8 372.7,270.9 369.6,283.3 370.6,291.5 374.7,299.7 374.7,305.9 365.5,305.9 352.1,307.5 339.7,310"/>
<polyline fill="none" stroke="#1a1a1a" stroke-width="0.75" points="365.4,306.8 365.4,310.9 370.6,319.1 377.8,330.5 384,335.6 385,340.8 389.1,342.3 402.5,341.8 405.6,338.7 413.9,335.6 425.2,336.1"/>
<polyline fill="none" stroke="#1a1a1a" stroke-width="0.75" points="402.5,341.8 403.6,346.9 400.5,358.3 401.5,363.4 395.3,364.4 391.8,362.9 375.3,367"/>
<polygon fill="none" stroke="#000" stroke-width="1.6" stroke-linejoin="round" points="44.5,246.9 135.7,203.6 138.8,202.1 141.9,199 148.8,186.1 148.8,169.9 151.1,157.5 155.8,150.6 155,142.1 150.5,132 151.5,118.7 156.5,111.9 174.3,108.7 196.3,88.7 200,86.4 206.2,85.2 212.4,78.4 216.1,75.3 222.2,78.4 230.9,75.9 239.6,77.7 251.9,81.5 261.8,81.5 268,78.4 275.4,79.6 279.1,83.3 276.6,88.2 280.3,92.6 286.5,89.5 295.2,84.5 301.4,85.8 305.1,90.7 306.3,96.9 303.8,99.4 305.9,101.5 311.1,103 313.3,106.7 311.9,109.6 310.4,111.9 313.3,115.6 316.3,117 320,115.9 322.2,119.3 322.2,123.7 324.5,127.4 325.9,131.1 325.2,134.1 327.4,136 332.6,134.5 337.1,136.3 341.5,143 346,142.3 355.6,140.8 359.3,143 366.7,142.6 364.5,145.2 359.3,146.7 353.4,148.2 351.9,151.9 352.6,157.8 357.1,162.3 359.3,166 357.8,167.5 360.8,169.7 359.6,173.1 355.8,174.3 354.6,175.6 350.3,173.7 347.8,176.2 347.8,179.9 346,182.4 343.5,181.4 342.2,184.8 339.8,185.5 338.5,189.2 341,192.2 341.6,196.6 333.6,196.6 332.4,194.7 331.7,199.7 329.3,200.9 330.5,205.2 334.2,206.5 334.8,210.2 334.2,213.9 331.1,215.7 329.9,218.8 327.4,221.3 331.1,222.5 336,229 342.2,236.2 348.4,235.7 350.4,238.3 347.3,241.4 352.5,242.4 355.6,248.6 360.7,251.7 361.7,254.8 359.7,257.9 355.1,257.9 359.7,261 357.6,264 364.8,265.1 374.1,267.1 382.3,272.3 393.7,279.5 401.9,286.7 408.1,284.6 412.2,286.7 415.3,291.9 419.4,297 418.4,300.1 425.6,306.3 432.8,315.5 426.6,328 425.4,340 425.4,348.5 439.5,348.5 439.5,370.8 443.9,372.2 446.1,376.3 449.1,376.7 453.6,381.5 455.8,383.7 455,386 457.3,390.4 462.5,395.2 456.5,394.9 448.4,390.4 439.5,390.8 436.5,389.3 427.6,387.4 411.3,387.4 402.4,390.4 399.4,395.6 393.9,407.7 385.8,416 379.4,426.2 366,434.4 341.7,431.3 297,425.1 256.9,400.4 213.6,373.3 192.5,362 134.1,327 100.2,305.6 84.7,301 70.8,297.9 66.2,295.6 63.1,291.7 56.9,291.7 53,288.6 53.8,282.4 50.7,268.5"/>
</g>
<rect x="40.3" y="70.5" width="427.2" height="367.8" fill="none" stroke="#111" stroke-width="1.2"/>
<path stroke="#222" stroke-width="1.05" d="M53.28 438.3L53.28 444.3M53.28 70.5L53.28 64.5M96 438.3L96 450.3M96 70.5L96 58.5M138.72 438.3L138.72 444.3M138.72 70.5L138.72 64.5M181.44 438.3L181.44 444.3M181.44 70.5L181.44 64.5M224.16 438.3L224.16 444.3M224.16 70.5L224.16 64.5M266.88 438.3L266.88 444.3M266.88 70.5L266.88 64.5M309.6 438.3L309.6 450.3M309.6 70.5L309.6 58.5M352.32 438.3L352.32 444.3M352.32 70.5L352.32 64.5M395.04 438.3L395.04 444.3M395.04 70.5L395.04 64.5M437.76 438.3L437.76 444.3M437.76 70.5L437.76 64.5M40.3 434.18L34.3 434.18M467.5 434.18L473.5 434.18M40.3 391.4L28.3 391.4M467.5 391.4L479.5 391.4M40.3 348.62L34.3 348.62M467.5 348.62L473.5 348.62M40.3 305.84L34.3 305.84M467.5 305.84L473.5 305.84M40.3 263.06L34.3 263.06M467.5 263.06L473.5 263.06M40.3 220.28L34.3 220.28M467.5 220.28L473.5 220.28M40.3 177.5L28.3 177.5M467.5 177.5L479.5 177.5M40.3 134.72L34.3 134.72M467.5 134.72L473.5 134.72M40.3 91.94L34.3 91.94M467.5 91.94L473.5 91.94"/>
<text x="20.3" y="181.6" text-anchor="end" font-size="11.8" font-family="Liberation Sans, sans-serif">35N</text>
<text x="20.3" y="395.2" text-anchor="end" font-size="11.6" font-family="Liberation Sans, sans-serif">30N</text>
<text x="96.0" y="467.3" text-anchor="middle" font-size="11" font-family="Liberation Sans, sans-serif">40E</text>
<text x="309.6" y="467.3" text-anchor="middle" font-size="11" font-family="Liberation Sans, sans-serif">45E</text>
<text x="40.5" y="51.7" font-size="14.2" font-family="Liberation Sans, sans-serif">TRMM 3B42RT</text>
<text x="468" y="51.7" text-anchor="end" font-size="14.2" font-family="Liberation Sans, sans-serif">run=24</text>
</g>
<g transform="translate(489.9,434.9)">
<clipPath id="c3"><rect x="40.3" y="70.5" width="427.2" height="367.8"/></clipPath>
<g clip-path="url(#c3)" class="cl">
<rect x="202.68" y="81.35" width="11.29" height="11.29" fill="#A7DCF6"/>
<rect x="213.37" y="81.35" width="32.69" height="11.29" fill="#4181C2"/>
<rect x="245.45" y="81.35" width="32.69" height="11.29" fill="#A7DCF6"/>
<rect x="288.24" y="81.35" width="11.29" height="11.29" fill="#EFF8FD"/>
<rect x="191.98" y="92.04" width="21.99" height="11.29" fill="#EFF8FD"/>
<rect x="213.37" y="92.04" width="75.47" height="11.29" fill="#A7DCF6"/>
<rect x="288.24" y="92.04" width="21.99" height="11.29" fill="#FEF6E0"/>
<rect x="181.28" y="102.73" width="11.29" height="11.29" fill="#EFF8FD"/>
<rect x="191.98" y="102.73" width="11.29" height="11.29" fill="#A7DCF6"/>
<rect x="202.68" y="102.73" width="21.99" height="11.29" fill="#EFF8FD"/>
<rect x="224.06" y="102.73" width="11.29" height="11.29" fill="#A7DCF6"/>
<rect x="234.76" y="102.73" width="32.69" height="11.29" fill="#EFF8FD"/>
<rect x="266.84" y="102.73" width="11.29" height="11.29" fill="#A7DCF6"/>
<rect x="277.54" y="102.73" width="11.29" height="11.29" fill="#4181C2"/>
<rect x="288.24" y="102.73" width="11.29" height="11.29" fill="#EFF8FD"/>
<rect x="298.93" y="102.73" width="11.29" height="11.29" fill="#FEF6E0"/>
<rect x="149.2" y="113.43" width="11.29" height="11.29" fill="#A7DCF6"/>
<rect x="159.89" y="113.43" width="11.29" height="11.29" fill="#EFF8FD"/>
<rect x="170.59" y="113.43" width="54.08" height="11.29" fill="#A7DCF6"/>
<rect x="224.06" y="113.43" width="11.29" height="11.29" fill="#EFF8FD"/>
<rect x="234.76" y="113.43" width="11.29" height="11.29" fill="#A7DCF6"/>
<rect x="245.45" y="113.43" width="21.99" height="11.29" fill="#EFF8FD"/>
<rect x="266.84" y="113.43" width="21.99" height="11.29" fill="#A7DCF6"/>
<rect x="288.24" y="113.43" width="11.29" height="11.29" fill="#4181C2"/>
<rect x="298.93" y="113.43" width="11.29" height="11.29" fill="#EFF8FD"/>
<rect x="309.62" y="113.43" width="11.29" height="11.29" fill="#A7DCF6"/>
<rect x="149.2" y="124.13" width="75.47" height="11.29" fill="#A7DCF6"/>
<rect x="224.06" y="124.13" width="21.99" height="11.29" fill="#EFF8FD"/>
<rect x="245.45" y="124.13" width="32.69" height="11.29" fill="#A7DCF6"/>
<rect x="277.54" y="124.13" width="11.29" height="11.29" fill="#4181C2"/>
<rect x="288.24" y="124.13" width="21.99" height="11.29" fill="#A7DCF6"/>
<rect x="309.62" y="124.13" width="11.29" height="11.29" fill="#4181C2"/>
<rect x="149.2" y="134.82" width="64.77" height="11.29" fill="#A7DCF6"/>
<rect x="213.37" y="134.82" width="32.69" height="11.29" fill="#EFF8FD"/>
<rect x="245.45" y="134.82" width="11.29" height="11.29" fill="#A7DCF6"/>
<rect x="256.15" y="134.82" width="11.29" height="11.29" fill="#EFF8FD"/>
<rect x="266.84" y="134.82" width="11.29" height="11.29" fill="#A7DCF6"/>
<rect x="277.54" y="134.82" width="64.77" height="11.29" fill="#4181C2"/>
<rect x="149.2" y="145.51" width="11.29" height="11.29" fill="#EFF8FD"/>
<rect x="159.89" y="145.51" width="96.85" height="11.29" fill="#A7DCF6"/>
<rect x="256.15" y="145.51" width="11.29" height="11.29" fill="#EFF8FD"/>
<rect x="266.84" y="145.51" width="11.29" height="11.29" fill="#A7DCF6"/>
<rect x="277.54" y="145.51" width="54.08" height="11.29" fill="#4181C2"/>
<rect x="331.01" y="145.51" width="21.99" height="11.29" fill="#A7DCF6"/>
<rect x="149.2" y="156.21" width="32.69" height="11.29" fill="#A7DCF6"/>
<rect x="181.28" y="156.21" width="11.29" height="11.29" fill="#EFF8FD"/>
<rect x="191.98" y="156.21" width="11.29" height="11.29" fill="#A7DCF6"/>
<rect x="202.68" y="156.21" width="21.99" height="11.29" fill="#4181C2"/>
<rect x="224.06" y="156.21" width="32.69" height="11.29" fill="#A7DCF6"/>
<rect x="256.15" y="156.21" width="11.29" height="11.29" fill="#EFF8FD"/>
<rect x="266.84" y="156.21" width="11.29" height="11.29" fill="#A7DCF6"/>
<rect x="277.54" y="156.21" width="43.38" height="11.29" fill="#4181C2"/>
<rect x="320.32" y="156.21" width="11.29" height="11.29" fill="#A7DCF6"/>
<rect x="331.01" y="156.21" width="21.99" height="11.29" fill="#EFF8FD"/>
<rect x="149.2" y="166.9" width="21.99" height="11.29" fill="#A7DCF6"/>
<rect x="170.59" y="166.9" width="21.99" height="11.29" fill="#EFF8FD"/>
<rect x="191.98" y="166.9" width="21.99" height="11.29" fill="#A7DCF6"/>
<rect x="213.37" y="166.9" width="21.99" height="11.29" fill="#4181C2"/>
<rect x="234.76" y="166.9" width="11.29" height="11.29" fill="#A7DCF6"/>
<rect x="245.45" y="166.9" width="75.47" height="11.29" fill="#4181C2"/>
<rect x="320.32" y="166.9" width="11.29" height="11.29" fill="#A7DCF6"/>
<rect x="331.01" y="166.9" width="11.29" height="11.29" fill="#EFF8FD"/>
<rect x="341.71" y="166.9" width="11.29" height="11.29" fill="#FEF6E0"/>
<rect x="352.41" y="166.9" width="11.29" height="11.29" fill="#EFF8FD"/>
<rect x="149.2" y="177.6" width="21.99" height="11.29" fill="#A7DCF6"/>
<rect x="170.59" y="177.6" width="21.99" height="11.29" fill="#EFF8FD"/>
<rect x="191.98" y="177.6" width="32.69" height="11.29" fill="#A7DCF6"/>
<rect x="224.06" y="177.6" width="21.99" height="11.29" fill="#4181C2"/>
<rect x="245.45" y="177.6" width="32.69" height="11.29" fill="#A7DCF6"/>
<rect x="277.54" y="177.6" width="21.99" height="11.29" fill="#4181C2"/>
<rect x="298.93" y="177.6" width="11.29" height="11.29" fill="#A7DCF6"/>
<rect x="309.62" y="177.6" width="21.99" height="11.29" fill="#4181C2"/>
<rect x="331.01" y="177.6" width="11.29" height="11.29" fill="#A7DCF6"/>
<rect x="138.5" y="188.3" width="43.38" height="11.29" fill="#A7DCF6"/>
<rect x="181.28" y="188.3" width="11.29" height="11.29" fill="#EFF8FD"/>
<rect x="191.98" y="188.3" width="11.29" height="11.29" fill="#A7DCF6"/>
<rect x="202.68" y="188.3" width="11.29" height="11.29" fill="#EFF8FD"/>
<rect x="213.37" y="188.3" width="11.29" height="11.29" fill="#A7DCF6"/>
<rect x="224.06" y="188.3" width="11.29" height="11.29" fill="#4181C2"/>
<rect x="234.76" y="188.3" width="21.99" height="11.29" fill="#A7DCF6"/>
<rect x="256.15" y="188.3" width="11.29" height="11.29" fill="#EFF8FD"/>
<rect x="266.84" y="188.3" width="11.29" height="11.29" fill="#A7DCF6"/>
<rect x="277.54" y="188.3" width="54.08" height="11.29" fill="#4181C2"/>
<rect x="331.01" y="188.3" width="11.29" height="11.29" fill="#A7DCF6"/>
<rect x="138.5" y="198.99" width="11.29" height="11.29" fill="#A7DCF6"/>
<rect x="149.2" y="198.99" width="11.29" height="11.29" fill="#4181C2"/>
<rect x="159.89" y="198.99" width="11.29" height="11.29" fill="#A7DCF6"/>
<rect x="170.59" y="198.99" width="11.29" height="11.29" fill="#4181C2"/>
<rect x="181.28" y="198.99" width="32.69" height="11.29" fill="#A7DCF6"/>
<rect x="213.37" y="198.99" width="21.99" height="11.29" fill="#EFF8FD"/>
<rect x="234.76" y="198.99" width="11.29" height="11.29" fill="#FEF6E0"/>
<rect x="245.45" y="198.99" width="21.99" height="11.29" fill="#A7DCF6"/>
<rect x="266.84" y="198.99" width="11.29" height="11.29" fill="#EFF8FD"/>
<rect x="277.54" y="198.99" width="54.08" height="11.29" fill="#4181C2"/>
<rect x="106.42" y="209.69" width="21.99" height="11.29" fill="#A7DCF6"/>
<rect x="127.81" y="209.69" width="11.29" height="11.29" fill="#4181C2"/>
<rect x="138.5" y="209.69" width="32.69" height="11.29" fill="#A7DCF6"/>
<rect x="170.59" y="209.69" width="11.29" height="11.29" fill="#4181C2"/>
<rect x="181.28" y="209.69" width="11.29" height="11.29" fill="#FEF6E0"/>
<rect x="191.98" y="209.69" width="11.29" height="11.29" fill="#EFF8FD"/>
<rect x="202.68" y="209.69" width="11.29" height="11.29" fill="#A7DCF6"/>
<rect x="213.37" y="209.69" width="11.29" height="11.29" fill="#FEF6E0"/>
<rect x="224.06" y="209.69" width="21.99" height="11.29" fill="#A7DCF6"/>
<rect x="245.45" y="209.69" width="11.29" height="11.29" fill="#FEF6E0"/>
<rect x="256.15" y="209.69" width="11.29" height="11.29" fill="#A7DCF6"/>
<rect x="266.84" y="209.69" width="64.77" height="11.29" fill="#4181C2"/>
<rect x="85.03" y="220.38" width="11.29" height="11.29" fill="#A7DCF6"/>
<rect x="95.73" y="220.38" width="21.99" height="11.29" fill="#4181C2"/>
<rect x="117.12" y="220.38" width="43.38" height="11.29" fill="#A7DCF6"/>
<rect x="159.89" y="220.38" width="21.99" height="11.29" fill="#4181C2"/>
<rect x="181.28" y="220.38" width="11.29" height="11.29" fill="#EFF8FD"/>
<rect x="191.98" y="220.38" width="21.99" height="11.29" fill="#A7DCF6"/>
<rect x="213.37" y="220.38" width="11.29" height="11.29" fill="#FEF6E0"/>
<rect x="224.06" y="220.38" width="21.99" height="11.29" fill="#A7DCF6"/>
<rect x="245.45" y="220.38" width="11.29" height="11.29" fill="#EFF8FD"/>
<rect x="256.15" y="220.38" width="64.77" height="11.29" fill="#4181C2"/>
<rect x="320.32" y="220.38" width="11.29" height="11.29" fill="#1B2A61"/>
<rect x="63.64" y="231.07" width="11.29" height="11.29" fill="#4181C2"/>
<rect x="74.33" y="231.07" width="43.38" height="11.29" fill="#A7DCF6"/>
<rect x="117.12" y="231.07" width="11.29" height="11.29" fill="#4181C2"/>
<rect x="127.81" y="231.07" width="11.29" height="11.29" fill="#A7DCF6"/>
<rect x="138.5" y="231.07" width="32.69" height="11.29" fill="#4181C2"/>
<rect x="170.59" y="231.07" width="43.38" height="11.29" fill="#A7DCF6"/>
<rect x="213.37" y="231.07" width="11.29" height="11.29" fill="#EFF8FD"/>
<rect x="224.06" y="231.07" width="43.38" height="11.29" fill="#A7DCF6"/>
<rect x="266.84" y="231.07" width="43.38" height="11.29" fill="#4181C2"/>
<rect x="309.62" y="231.07" width="21.99" height="11.29" fill="#1B2A61"/>
<rect x="331.01" y="231.07" width="11.29" height="11.29" fill="#4181C2"/>
<rect x="42.25" y="241.77" width="11.29" height="11.29" fill="#A7DCF6"/>
<rect x="52.95" y="241.77" width="54.08" height="11.29" fill="#4181C2"/>
<rect x="106.42" y="241.77" width="11.29" height="11.29" fill="#A7DCF6"/>
<rect x="117.12" y="241.77" width="11.29" height="11.29" fill="#4181C2"/>
<rect x="127.81" y="241.77" width="54.08" height="11.29" fill="#A7DCF6"/>
<rect x="181.28" y="241.77" width="11.29" height="11.29" fill="#4181C2"/>
<rect x="191.98" y="241.77" width="11.29" height="11.29" fill="#A7DCF6"/>
<rect x="202.68" y="241.77" width="11.29" height="11.29" fill="#FEF6E0"/>
<rect x="213.37" y="241.77" width="11.29" height="11.29" fill="#EFF8FD"/>
<rect x="224.06" y="241.77" width="11.29" height="11.29" fill="#FDB441"/>
<rect x="234.76" y="241.77" width="21.99" height="11.29" fill="#EFF8FD"/>
<rect x="256.15" y="241.77" width="11.29" height="11.29" fill="#A7DCF6"/>
<rect x="266.84" y="241.77" width="32.69" height="11.29" fill="#4181C2"/>
<rect x="298.93" y="241.77" width="11.29" height="11.29" fill="#1B2A61"/>
<rect x="309.62" y="241.77" width="43.38" height="11.29" fill="#4181C2"/>
<rect x="42.25" y="252.46" width="11.29" height="11.29" fill="#EFF8FD"/>
<rect x="52.95" y="252.46" width="11.29" height="11.29" fill="#A7DCF6"/>
<rect x="63.64" y="252.46" width="11.29" height="11.29" fill="#4181C2"/>
<rect x="74.33" y="252.46" width="11.29" height="11.29" fill="#A7DCF6"/>
<rect x="85.03" y="252.46" width="54.08" height="11.29" fill="#4181C2"/>
<rect x="138.5" y="252.46" width="21.99" height="11.29" fill="#A7DCF6"/>
<rect x="159.89" y="252.46" width="11.29" height="11.29" fill="#EFF8FD"/>
<rect x="170.59" y="252.46" width="21.99" height="11.29" fill="#A7DCF6"/>
<rect x="191.98" y="252.46" width="32.69" height="11.29" fill="#EFF8FD"/>
<rect x="224.06" y="252.46" width="11.29" height="11.29" fill="#FDB441"/>
<rect x="234.76" y="252.46" width="43.38" height="11.29" fill="#A7DCF6"/>
<rect x="277.54" y="252.46" width="11.29" height="11.29" fill="#4181C2"/>
<rect x="288.24" y="252.46" width="21.99" height="11.29" fill="#1B2A61"/>
<rect x="309.62" y="252.46" width="21.99" height="11.29" fill="#4181C2"/>
<rect x="331.01" y="252.46" width="11.29" height="11.29" fill="#1B2A61"/>
<rect x="341.71" y="252.46" width="21.99" height="11.29" fill="#4181C2"/>
<rect x="52.95" y="263.16" width="11.29" height="11.29" fill="#A7DCF6"/>
<rect x="63.64" y="263.16" width="11.29" height="11.29" fill="#4181C2"/>
<rect x="74.33" y="263.16" width="11.29" height="11.29" fill="#A7DCF6"/>
<rect x="85.03" y="263.16" width="43.38" height="11.29" fill="#4181C2"/>
<rect x="127.81" y="263.16" width="11.29" height="11.29" fill="#A7DCF6"/>
<rect x="138.5" y="263.16" width="75.47" height="11.29" fill="#4181C2"/>
<rect x="213.37" y="263.16" width="11.29" height="11.29" fill="#A7DCF6"/>
<rect x="224.06" y="263.16" width="11.29" height="11.29" fill="#FEF6E0"/>
<rect x="234.76" y="263.16" width="11.29" height="11.29" fill="#FDB441"/>
<rect x="245.45" y="263.16" width="21.99" height="11.29" fill="#EFF8FD"/>
<rect x="266.84" y="263.16" width="21.99" height="11.29" fill="#A7DCF6"/>
<rect x="288.24" y="263.16" width="43.38" height="11.29" fill="#4181C2"/>
<rect x="331.01" y="263.16" width="11.29" height="11.29" fill="#A7DCF6"/>
<rect x="341.71" y="263.16" width="32.69" height="11.29" fill="#4181C2"/>
<rect x="52.95" y="273.86" width="21.99" height="11.29" fill="#4181C2"/>
<rect x="74.33" y="273.86" width="21.99" height="11.29" fill="#A7DCF6"/>
<rect x="95.73" y="273.86" width="11.29" height="11.29" fill="#4181C2"/>
<rect x="106.42" y="273.86" width="21.99" height="11.29" fill="#1B2A61"/>
<rect x="127.81" y="273.86" width="11.29" height="11.29" fill="#4181C2"/>
<rect x="138.5" y="273.86" width="21.99" height="11.29" fill="#A7DCF6"/>
<rect x="159.89" y="273.86" width="21.99" height="11.29" fill="#4181C2"/>
<rect x="181.28" y="273.86" width="21.99" height="11.29" fill="#A7DCF6"/>
<rect x="202.68" y="273.86" width="21.99" height="11.29" fill="#EFF8FD"/>
<rect x="224.06" y="273.86" width="11.29" height="11.29" fill="#A7DCF6"/>
<rect x="234.76" y="273.86" width="11.29" height="11.29" fill="#FDB441"/>
<rect x="245.45" y="273.86" width="32.69" height="11.29" fill="#EFF8FD"/>
<rect x="277.54" y="273.86" width="11.29" height="11.29" fill="#4181C2"/>
<rect x="288.24" y="273.86" width="32.69" height="11.29" fill="#A7DCF6"/>
<rect x="320.32" y="273.86" width="75.47" height="11.29" fill="#4181C2"/>
<rect x="52.95" y="284.55" width="11.29" height="11.29" fill="#1B2A61"/>
<rect x="63.64" y="284.55" width="21.99" height="11.29" fill="#A7DCF6"/>
<rect x="85.03" y="284.55" width="11.29" height="11.29" fill="#EFF8FD"/>
<rect x="95.73" y="284.55" width="11.29" height="11.29" fill="#A7DCF6"/>
<rect x="106.42" y="284.55" width="32.69" height="11.29" fill="#4181C2"/>
<rect x="138.5" y="284.55" width="21.99" height="11.29" fill="#A7DCF6"/>
<rect x="159.89" y="284.55" width="21.99" height="11.29" fill="#4181C2"/>
<rect x="181.28" y="284.55" width="32.69" height="11.29" fill="#A7DCF6"/>
<rect x="213.37" y="284.55" width="11.29" height="11.29" fill="#EFF8FD"/>
<rect x="224.06" y="284.55" width="11.29" height="11.29" fill="#4181C2"/>
<rect x="234.76" y="284.55" width="21.99" height="11.29" fill="#FDB441"/>
<rect x="256.15" y="284.55" width="11.29" height="11.29" fill="#FEF6E0"/>
<rect x="266.84" y="284.55" width="11.29" height="11.29" fill="#EFF8FD"/>
<rect x="277.54" y="284.55" width="11.29" height="11.29" fill="#4181C2"/>
<rect x="288.24" y="284.55" width="11.29" height="11.29" fill="#EFF8FD"/>
<rect x="298.93" y="284.55" width="75.47" height="11.29" fill="#4181C2"/>
<rect x="373.8" y="284.55" width="11.29" height="11.29" fill="#EFF8FD"/>
<rect x="384.49" y="284.55" width="11.29" height="11.29" fill="#4181C2"/>
<rect x="395.19" y="284.55" width="21.99" height="11.29" fill="#A7DCF6"/>
<rect x="85.03" y="295.25" width="64.77" height="11.29" fill="#A7DCF6"/>
<rect x="149.2" y="295.25" width="21.99" height="11.29" fill="#4181C2"/>
<rect x="170.59" y="295.25" width="11.29" height="11.29" fill="#A7DCF6"/>
<rect x="181.28" y="295.25" width="32.69" height="11.29" fill="#4181C2"/>
<rect x="213.37" y="295.25" width="43.38" height="11.29" fill="#A7DCF6"/>
<rect x="256.15" y="295.25" width="118.25" height="11.29" fill="#4181C2"/>
<rect x="373.8" y="295.25" width="21.99" height="11.29" fill="#EFF8FD"/>
<rect x="395.19" y="295.25" width="21.99" height="11.29" fill="#A7DCF6"/>
<rect x="106.42" y="305.94" width="11.29" height="11.29" fill="#A7DCF6"/>
<rect x="117.12" y="305.94" width="21.99" height="11.29" fill="#4181C2"/>
<rect x="138.5" y="305.94" width="32.69" height="11.29" fill="#A7DCF6"/>
<rect x="170.59" y="305.94" width="11.29" height="11.29" fill="#4181C2"/>
<rect x="181.28" y="305.94" width="11.29" height="11.29" fill="#A7DCF6"/>
<rect x="191.98" y="305.94" width="86.16" height="11.29" fill="#4181C2"/>
<rect x="277.54" y="305.94" width="11.29" height="11.29" fill="#A7DCF6"/>
<rect x="288.24" y="305.94" width="75.47" height="11.29" fill="#4181C2"/>
<rect x="363.1" y="305.94" width="32.69" height="11.29" fill="#A7DCF6"/>
<rect x="395.19" y="305.94" width="11.29" height="11.29" fill="#4181C2"/>
<rect x="405.88" y="305.94" width="21.99" height="11.29" fill="#A7DCF6"/>
<rect x="127.81" y="316.63" width="43.38" height="11.29" fill="#A7DCF6"/>
<rect x="170.59" y="316.63" width="11.29" height="11.29" fill="#4181C2"/>
<rect x="181.28" y="316.63" width="11.29" height="11.29" fill="#A7DCF6"/>
<rect x="191.98" y="316.63" width="150.33" height="11.29" fill="#4181C2"/>
<rect x="341.71" y="316.63" width="32.69" height="11.29" fill="#A7DCF6"/>
<rect x="373.8" y="316.63" width="54.08" height="11.29" fill="#4181C2"/>
<rect x="149.2" y="327.33" width="43.38" height="11.29" fill="#A7DCF6"/>
<rect x="191.98" y="327.33" width="128.94" height="11.29" fill="#4181C2"/>
<rect x="320.32" y="327.33" width="107.55" height="11.29" fill="#A7DCF6"/>
<rect x="159.89" y="338.02" width="43.38" height="11.29" fill="#A7DCF6"/>
<rect x="202.68" y="338.02" width="32.69" height="11.29" fill="#4181C2"/>
<rect x="234.76" y="338.02" width="11.29" height="11.29" fill="#A7DCF6"/>
<rect x="245.45" y="338.02" width="64.77" height="11.29" fill="#4181C2"/>
<rect x="309.62" y="338.02" width="118.25" height="11.29" fill="#A7DCF6"/>
<rect x="181.28" y="348.72" width="11.29" height="11.29" fill="#EFF8FD"/>
<rect x="191.98" y="348.72" width="11.29" height="11.29" fill="#A7DCF6"/>
<rect x="202.68" y="348.72" width="54.08" height="11.29" fill="#4181C2"/>
<rect x="256.15" y="348.72" width="21.99" height="11.29" fill="#A7DCF6"/>
<rect x="277.54" y="348.72" width="43.38" height="11.29" fill="#4181C2"/>
<rect x="320.32" y="348.72" width="54.08" height="11.29" fill="#A7DCF6"/>
<rect x="373.8" y="348.72" width="21.99" height="11.29" fill="#EFF8FD"/>
<rect x="395.19" y="348.72" width="43.38" height="11.29" fill="#A7DCF6"/>
<rect x="191.98" y="359.41" width="32.69" height="11.29" fill="#4181C2"/>
<rect x="224.06" y="359.41" width="11.29" height="11.29" fill="#A7DCF6"/>
<rect x="234.76" y="359.41" width="11.29" height="11.29" fill="#4181C2"/>
<rect x="245.45" y="359.41" width="32.69" height="11.29" fill="#A7DCF6"/>
<rect x="277.54" y="359.41" width="32.69" height="11.29" fill="#4181C2"/>
<rect x="309.62" y="359.41" width="32.69" height="11.29" fill="#A7DCF6"/>
<rect x="341.71" y="359.41" width="11.29" height="11.29" fill="#4181C2"/>
<rect x="352.41" y="359.41" width="21.99" height="11.29" fill="#A7DCF6"/>
<rect x="373.8" y="359.41" width="21.99" height="11.29" fill="#EFF8FD"/>
<rect x="395.19" y="359.41" width="11.29" height="11.29" fill="#A7DCF6"/>
<rect x="405.88" y="359.41" width="21.99" height="11.29" fill="#EFF8FD"/>
<rect x="427.27" y="359.41" width="11.29" height="11.29" fill="#A7DCF6"/>
<rect x="213.37" y="370.11" width="11.29" height="11.29" fill="#4181C2"/>
<rect x="224.06" y="370.11" width="54.08" height="11.29" fill="#A7DCF6"/>
<rect x="277.54" y="370.11" width="32.69" height="11.29" fill="#4181C2"/>
<rect x="309.62" y="370.11" width="32.69" height="11.29" fill="#A7DCF6"/>
<rect x="341.71" y="370.11" width="11.29" height="11.29" fill="#4181C2"/>
<rect x="352.41" y="370.11" width="64.77" height="11.29" fill="#A7DCF6"/>
<rect x="416.57" y="370.11" width="21.99" height="11.29" fill="#4181C2"/>
<rect x="437.97" y="370.11" width="11.29" height="11.29" fill="#A7DCF6"/>
<rect x="234.76" y="380.81" width="32.69" height="11.29" fill="#A7DCF6"/>
<rect x="266.84" y="380.81" width="32.69" height="11.29" fill="#4181C2"/>
<rect x="298.93" y="380.81" width="11.29" height="11.29" fill="#A7DCF6"/>
<rect x="309.62" y="380.81" width="11.29" height="11.29" fill="#4181C2"/>
<rect x="320.32" y="380.81" width="21.99" height="11.29" fill="#A7DCF6"/>
<rect x="341.71" y="380.81" width="32.69" height="11.29" fill="#4181C2"/>
<rect x="373.8" y="380.81" width="43.38" height="11.29" fill="#A7DCF6"/>
<rect x="416.57" y="380.81" width="21.99" height="11.29" fill="#4181C2"/>
<rect x="437.97" y="380.81" width="11.29" height="11.29" fill="#A7DCF6"/>
<rect x="448.66" y="380.81" width="11.29" height="11.29" fill="#4181C2"/>
<rect x="245.45" y="391.5" width="150.33" height="11.29" fill="#4181C2"/>
<rect x="266.84" y="402.19" width="32.69" height="11.29" fill="#4181C2"/>
<rect x="298.93" y="402.19" width="21.99" height="11.29" fill="#A7DCF6"/>
<rect x="320.32" y="402.19" width="32.69" height="11.29" fill="#4181C2"/>
<rect x="352.41" y="402.19" width="43.38" height="11.29" fill="#A7DCF6"/>
<rect x="288.24" y="412.89" width="11.29" height="11.29" fill="#4181C2"/>
<rect x="298.93" y="412.89" width="21.99" height="11.29" fill="#A7DCF6"/>
<rect x="320.32" y="412.89" width="32.69" height="11.29" fill="#4181C2"/>
<rect x="352.41" y="412.89" width="32.69" height="11.29" fill="#A7DCF6"/>
<rect x="320.32" y="423.58" width="32.69" height="11.29" fill="#4181C2"/>
<rect x="352.41" y="423.58" width="21.99" height="11.29" fill="#A7DCF6"/>
<rect x="373.8" y="423.58" width="11.29" height="11.29" fill="#EFF8FD"/>
<polyline fill="none" stroke="#1a1a1a" stroke-width="0.75" points="197.7,89.5 203.4,94.7 207.5,99.8 217.8,105.5 228.1,102.9 235.3,96.7 238.4,96.7 242.5,99.8 250.8,100.8 252.8,97.7 251.8,94.1 258,92.6 266.2,87.4 269.3,82.3 268.8,79.2"/>
<polyline fill="none" stroke="#1a1a1a" stroke-width="0.75" points="258,92.6 266.2,96.7 272.4,100.8 277.5,103.9 275.5,108 266.2,110.1 260,115.3 253.9,122.5 247.7,129.7 243.6,134.8 239.4,136.9 242.5,138.9 238.4,144.1 238.4,149.2 241.5,154.4 242.4,158.5"/>
<polyline fill="none" stroke="#1a1a1a" stroke-width="0.75" points="238.4,149.2 233.3,151.3 224,152.3 218.8,157.5 218.3,161 218.3,166.2 224.4,175.4 201.8,175.4 201.8,181.1"/>
<polyline fill="none" stroke="#1a1a1a" stroke-width="0.75" points="149.3,172.9 153.4,173.4 159.6,176 167.8,177.5 179.1,181.6 187.4,180.6 192.5,182.1 201.8,181.1"/>
<polyline fill="none" stroke="#1a1a1a" stroke-width="0.75" points="201.8,181.1 201.8,198.1 212.1,203.3 220.3,200.7 221.4,203.3 223.4,215.6 227.1,220 241.5,232.4 253.9,234.4 266.2,235.4 272.4,242.7 277.5,244.7"/>
<polyline fill="none" stroke="#1a1a1a" stroke-width="0.75" points="242.4,158.5 248.5,158 255.7,154.4 259.9,145.1 265,142.1 271.2,144.1 279.4,142.1 287.7,141 291.6,140.5 297.8,149.2 295.7,153.4 298.8,158.5 295.7,164.7 288.5,171.9 286.5,177 281.5,183.3 277.4,190.5 270.2,185.3 258.8,180.2 247.5,175 240.3,166.8 236.2,160.6 242.4,158.5"/>
<polyline fill="none" stroke="#1a1a1a" stroke-width="0.75" points="288.5,171.9 291.8,176 305,177 306,183.2 300.9,186.3 296.8,191.5 287.5,195.6 286.5,200.1 286.1,210 279.4,218.3 283.6,222.4 284.1,233.6 280.6,241.6 277.5,244.7"/>
<polyline fill="none" stroke="#1a1a1a" stroke-width="0.75" points="306,183.2 311.2,184.3 317.4,188.4 318.4,195.6 325.6,191.5 331.8,181.2 336.9,173.9 340,176 341.1,182.2"/>
<polyline fill="none" stroke="#1a1a1a" stroke-width="0.75" points="291.6,140.5 298.5,141 305.7,140 296.5,132.8 292.4,129.7 293.4,125.6 289.3,123.5 288.2,121.4 292.4,117.3 306.8,115.3 310.9,112.2"/>
<polyline fill="none" stroke="#1a1a1a" stroke-width="0.75" points="350,243.1 341.8,250.3 335.6,257.5 329.4,262.1 319.1,260.6 303.7,256.5 294.4,262.1 290.3,260.6 288.2,255.4 290.3,245.1 289.3,243.1 280.6,241.6"/>
<polyline fill="none" stroke="#1a1a1a" stroke-width="0.75" points="277.5,244.7 276.5,250.9 278.6,255 269.3,255.5 260,254.5 268.3,258.1 270.3,263.3 271.4,269.4 271.4,274.6 275.5,276.6 274.5,281.8 277.5,285.9 279.6,292.1 278.6,298.3 282.7,301.4 290.3,301"/>
<polyline fill="none" stroke="#1a1a1a" stroke-width="0.75" points="278.6,255 288.2,255.4"/>
<polyline fill="none" stroke="#1a1a1a" stroke-width="0.75" points="231.2,282.8 243.6,280.8 253.9,275.6 262.1,274.1 271.4,274.6"/>
<polyline fill="none" stroke="#1a1a1a" stroke-width="0.75" points="231.2,282.8 236.3,290 245.6,296.2 253.9,302.4 255.6,306.5"/>
<polyline fill="none" stroke="#1a1a1a" stroke-width="0.75" points="253.9,302 266.9,296.2 279.6,292.1"/>
<polyline fill="none" stroke="#1a1a1a" stroke-width="0.75" points="255.6,306.5 244.3,311.6 235,320.9 230.9,328.1 226.8,337.4 225.7,342.5 218.5,354.9 213.4,372.4"/>
<polyline fill="none" stroke="#1a1a1a" stroke-width="0.75" points="290.3,260.6 287.2,265.7 291.3,271.9 299.6,274 310.9,284.3 317.1,287.9 327.4,295.6 335.6,303.9 339.7,310 341.8,317.2 341.8,321.4"/>
<polyline fill="none" stroke="#1a1a1a" stroke-width="0.75" points="317.1,287.9 309.9,293.6 299.6,298.7 295.4,302.8 290.3,301 284.1,299.7 280,300 279.6,292.1"/>
<polyline fill="none" stroke="#1a1a1a" stroke-width="0.75" points="290.3,301 286.2,305.9 288.2,314.1 286.2,321.4 283.1,325.1 285.1,329.3 295.4,332.4 304.7,337.5 307.8,336.5 308.8,332.4 311.9,326.2 310.9,321.4"/>
<polyline fill="none" stroke="#1a1a1a" stroke-width="0.75" points="310.9,321.4 319.1,319.3 327.4,319.3 341.8,321.4 342.8,329.3 340.8,335.4 341.8,343.7 337.7,349.9 338.7,355 352.1,358.1 367.5,359.1 375.3,367 380.5,387.1 379.4,407.7 377.4,425.2"/>
<polyline fill="none" stroke="#1a1a1a" stroke-width="0.75" points="295.4,332.4 292.5,340 290.5,348.2 289.4,353.4 284.3,358.5 278.1,361.6 275,365.7 269.9,377.1 268.8,383.3 264.7,389.4 257,400.2"/>
<polyline fill="none" stroke="#1a1a1a" stroke-width="0.75" points="375.8,268.8 372.7,270.9 369.6,283.3 370.6,291.5 374.7,299.7 374.7,305.9 365.5,305.9 352.1,307.5 339.7,310"/>
<polyline fill="none" stroke="#1a1a1a" stroke-width="0.75" points="365.4,306.8 365.4,310.9 370.6,319.1 377.8,330.5 384,335.6 385,340.8 389.1,342.3 402.5,341.8 405.6,338.7 413.9,335.6 425.2,336.1"/>
<polyline fill="none" stroke="#1a1a1a" stroke-width="0.75" points="402.5,341.8 403.6,346.9 400.5,358.3 401.5,363.4 395.3,364.4 391.8,362.9 375.3,367"/>
<polygon fill="none" stroke="#000" stroke-width="1.6" stroke-linejoin="round" points="44.5,246.9 135.7,203.6 138.8,202.1 141.9,199 148.8,186.1 148.8,169.9 151.1,157.5 155.8,150.6 155,142.1 150.5,132 151.5,118.7 156.5,111.9 174.3,108.7 196.3,88.7 200,86.4 206.2,85.2 212.4,78.4 216.1,75.3 222.2,78.4 230.9,75.9 239.6,77.7 251.9,81.5 261.8,81.5 268,78.4 275.4,79.6 279.1,83.3 276.6,88.2 280.3,92.6 286.5,89.5 295.2,84.5 301.4,85.8 305.1,90.7 306.3,96.9 303.8,99.4 305.9,101.5 311.1,103 313.3,106.7 311.9,109.6 310.4,111.9 313.3,115.6 316.3,117 320,115.9 322.2,119.3 322.2,123.7 324.5,127.4 325.9,131.1 325.2,134.1 327.4,136 332.6,134.5 337.1,136.3 341.5,143 346,142.3 355.6,140.8 359.3,143 366.7,142.6 364.5,145.2 359.3,146.7 353.4,148.2 351.9,151.9 352.6,157.8 357.1,162.3 359.3,166 357.8,167.5 360.8,169.7 359.6,173.1 355.8,174.3 354.6,175.6 350.3,173.7 347.8,176.2 347.8,179.9 346,182.4 343.5,181.4 342.2,184.8 339.8,185.5 338.5,189.2 341,192.2 341.6,196.6 333.6,196.6 332.4,194.7 331.7,199.7 329.3,200.9 330.5,205.2 334.2,206.5 334.8,210.2 334.2,213.9 331.1,215.7 329.9,218.8 327.4,221.3 331.1,222.5 336,229 342.2,236.2 348.4,235.7 350.4,238.3 347.3,241.4 352.5,242.4 355.6,248.6 360.7,251.7 361.7,254.8 359.7,257.9 355.1,257.9 359.7,261 357.6,264 364.8,265.1 374.1,267.1 382.3,272.3 393.7,279.5 401.9,286.7 408.1,284.6 412.2,286.7 415.3,291.9 419.4,297 418.4,300.1 425.6,306.3 432.8,315.5 426.6,328 425.4,340 425.4,348.5 439.5,348.5 439.5,370.8 443.9,372.2 446.1,376.3 449.1,376.7 453.6,381.5 455.8,383.7 455,386 457.3,390.4 462.5,395.2 456.5,394.9 448.4,390.4 439.5,390.8 436.5,389.3 427.6,387.4 411.3,387.4 402.4,390.4 399.4,395.6 393.9,407.7 385.8,416 379.4,426.2 366,434.4 341.7,431.3 297,425.1 256.9,400.4 213.6,373.3 192.5,362 134.1,327 100.2,305.6 84.7,301 70.8,297.9 66.2,295.6 63.1,291.7 56.9,291.7 53,288.6 53.8,282.4 50.7,268.5"/>
</g>
<rect x="40.3" y="70.5" width="427.2" height="367.8" fill="none" stroke="#111" stroke-width="1.2"/>
<path stroke="#222" stroke-width="1.05" d="M53.28 438.3L53.28 444.3M53.28 70.5L53.28 64.5M96 438.3L96 450.3M96 70.5L96 58.5M138.72 438.3L138.72 444.3M138.72 70.5L138.72 64.5M181.44 438.3L181.44 444.3M181.44 70.5L181.44 64.5M224.16 438.3L224.16 444.3M224.16 70.5L224.16 64.5M266.88 438.3L266.88 444.3M266.88 70.5L266.88 64.5M309.6 438.3L309.6 450.3M309.6 70.5L309.6 58.5M352.32 438.3L352.32 444.3M352.32 70.5L352.32 64.5M395.04 438.3L395.04 444.3M395.04 70.5L395.04 64.5M437.76 438.3L437.76 444.3M437.76 70.5L437.76 64.5M40.3 434.18L34.3 434.18M467.5 434.18L473.5 434.18M40.3 391.4L28.3 391.4M467.5 391.4L479.5 391.4M40.3 348.62L34.3 348.62M467.5 348.62L473.5 348.62M40.3 305.84L34.3 305.84M467.5 305.84L473.5 305.84M40.3 263.06L34.3 263.06M467.5 263.06L473.5 263.06M40.3 220.28L34.3 220.28M467.5 220.28L473.5 220.28M40.3 177.5L28.3 177.5M467.5 177.5L479.5 177.5M40.3 134.72L34.3 134.72M467.5 134.72L473.5 134.72M40.3 91.94L34.3 91.94M467.5 91.94L473.5 91.94"/>
<text x="20.3" y="181.6" text-anchor="end" font-size="11.8" font-family="Liberation Sans, sans-serif">35N</text>
<text x="20.3" y="395.2" text-anchor="end" font-size="11.6" font-family="Liberation Sans, sans-serif">30N</text>
<text x="96.0" y="467.3" text-anchor="middle" font-size="11" font-family="Liberation Sans, sans-serif">40E</text>
<text x="309.6" y="467.3" text-anchor="middle" font-size="11" font-family="Liberation Sans, sans-serif">45E</text>
<text x="40.5" y="51.7" font-size="14.2" font-family="Liberation Sans, sans-serif">TRMM 3B42RT</text>
<text x="468" y="51.7" text-anchor="end" font-size="14.2" font-family="Liberation Sans, sans-serif">run=48</text>
</g>
<text transform="translate(251.3,193.1) rotate(0)" x="0" y="4.1" text-anchor="middle" font-size="11.5" font-family="Liberation Sans, sans-serif">2</text>
<text transform="translate(325.3,331.3) rotate(56)" x="0" y="4.1" text-anchor="middle" font-size="11.5" font-family="Liberation Sans, sans-serif">2</text>
<text transform="translate(763.7,108.2) rotate(-95)" x="0" y="4.1" text-anchor="middle" font-size="11.5" font-family="Liberation Sans, sans-serif">2</text>
<text transform="translate(761.3,240.8) rotate(45)" x="0" y="4.1" text-anchor="middle" font-size="11.5" font-family="Liberation Sans, sans-serif">2</text>
<text transform="translate(586.9,257.9) rotate(90)" x="0" y="4.1" text-anchor="middle" font-size="11.5" font-family="Liberation Sans, sans-serif">2</text>
<text transform="translate(720.7,311.3) rotate(50)" x="0" y="4.1" text-anchor="middle" font-size="11.5" font-family="Liberation Sans, sans-serif">2</text>
<text transform="translate(293.1,561.9) rotate(40)" x="0" y="4.1" text-anchor="middle" font-size="11.5" font-family="Liberation Sans, sans-serif">2</text>
<text transform="translate(271.8,624.9) rotate(15)" x="0" y="4.1" text-anchor="middle" font-size="11.5" font-family="Liberation Sans, sans-serif">2</text>
<text transform="translate(794.2,570.1) rotate(-25)" x="0" y="4.1" text-anchor="middle" font-size="11.5" font-family="Liberation Sans, sans-serif">2</text>
<text transform="translate(728.3,607.1) rotate(20)" x="0" y="4.1" text-anchor="middle" font-size="11.5" font-family="Liberation Sans, sans-serif">2</text>
<text transform="translate(611.8,732.9) rotate(0)" x="0" y="4.1" text-anchor="middle" font-size="11.5" font-family="Liberation Sans, sans-serif">2</text>
<text transform="translate(772.7,713.6) rotate(-90)" x="0" y="4.1" text-anchor="middle" font-size="11.5" font-family="Liberation Sans, sans-serif">2</text>
<rect x="80" y="926.4" width="101.25" height="28" fill="#921519" stroke="#333" stroke-width="0.9"/>
<rect x="181.25" y="926.4" width="101.25" height="28" fill="#E5492B" stroke="#333" stroke-width="0.9"/>
<rect x="282.5" y="926.4" width="101.25" height="28" fill="#FDB441" stroke="#333" stroke-width="0.9"/>
<rect x="383.75" y="926.4" width="101.25" height="28" fill="#FEF6E0" stroke="#333" stroke-width="0.9"/>
<rect x="485" y="926.4" width="101.25" height="28" fill="#EFF8FD" stroke="#333" stroke-width="0.9"/>
<rect x="586.25" y="926.4" width="101.25" height="28" fill="#A7DCF6" stroke="#333" stroke-width="0.9"/>
<rect x="687.5" y="926.4" width="101.25" height="28" fill="#4181C2" stroke="#333" stroke-width="0.9"/>
<rect x="788.75" y="926.4" width="101.25" height="28" fill="#1B2A61" stroke="#333" stroke-width="0.9"/>
<text x="181.25" y="970.6" text-anchor="middle" font-size="10.8" font-family="Liberation Sans, sans-serif">-3</text>
<text x="282.5" y="970.6" text-anchor="middle" font-size="10.8" font-family="Liberation Sans, sans-serif">-2</text>
<text x="383.75" y="970.6" text-anchor="middle" font-size="10.8" font-family="Liberation Sans, sans-serif">-1</text>
<text x="485" y="970.6" text-anchor="middle" font-size="10.8" font-family="Liberation Sans, sans-serif">0</text>
<text x="586.25" y="970.6" text-anchor="middle" font-size="10.8" font-family="Liberation Sans, sans-serif">1</text>
<text x="687.5" y="970.6" text-anchor="middle" font-size="10.8" font-family="Liberation Sans, sans-serif">2</text>
<text x="788.75" y="970.6" text-anchor="middle" font-size="10.8" font-family="Liberation Sans, sans-serif">3</text>
</svg></body></html>
